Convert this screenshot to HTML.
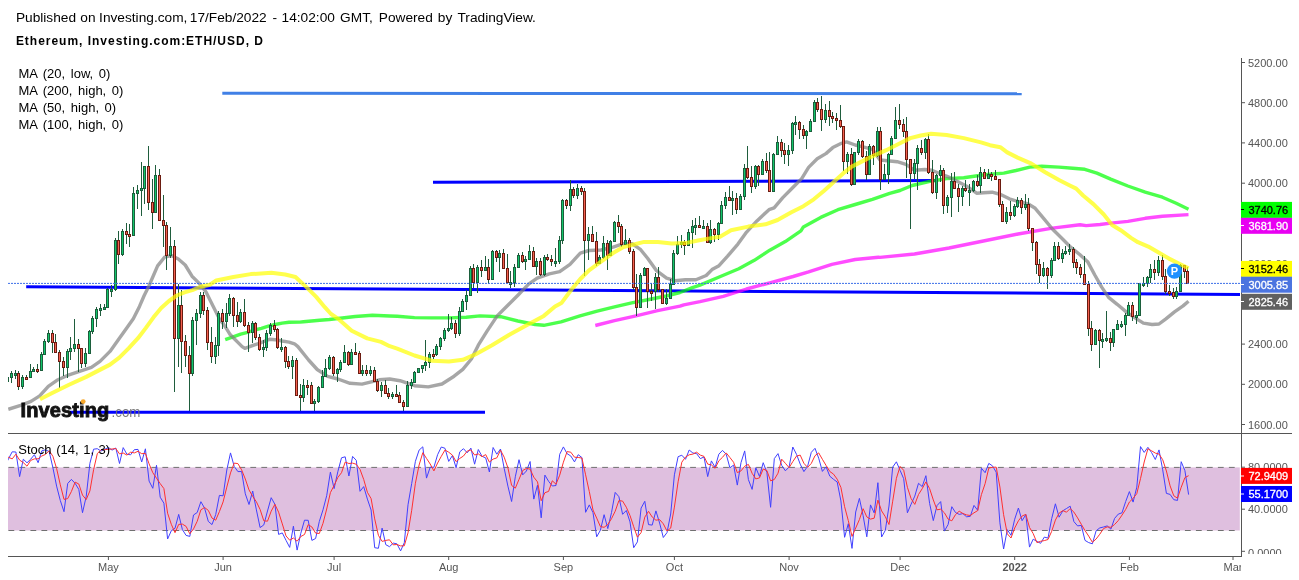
<!DOCTYPE html>
<html><head><meta charset="utf-8"><style>
html,body{margin:0;padding:0;background:#fff;}
body{width:1299px;height:580px;position:relative;overflow:hidden;font-family:"Liberation Sans",sans-serif;}
svg{position:absolute;left:0;top:0;will-change:transform;}
svg text{font-family:"Liberation Sans",sans-serif;}
</style></head><body>
<svg width="1299" height="580" viewBox="0 0 1299 580">
<defs><clipPath id="cm"><rect x="8" y="58" width="1233" height="375"/></clipPath><clipPath id="cs"><rect x="8" y="434" width="1233" height="122"/></clipPath><clipPath id="cta"><rect x="0" y="540" width="1241" height="40"/></clipPath><clipPath id="csa"><rect x="1242" y="434" width="57" height="120"/></clipPath></defs>
<g clip-path="url(#cm)">
<line x1="222.3" y1="93.3" x2="1021.7" y2="93.7" stroke="#4080e6" stroke-width="3"/>
<line x1="433" y1="182.2" x2="936" y2="180.6" stroke="#0000ff" stroke-width="3"/>
<line x1="26.2" y1="286.7" x2="1240" y2="294.5" stroke="#0000ff" stroke-width="3"/>
<path d="M595.3,325.5 L614.5,320.6 L636.0,315.9 L657.6,310.7 L680.0,306.2 L683.8,304.8 L700.0,301.7 L723.3,296.4 L746.5,289.0 L769.8,282.8 L793.1,276.5 L808.6,271.9 L831.9,264.4 L855.2,259.5 L878.4,257.3 L880.0,257.4 L914.5,254.0 L949.0,248.0 L983.4,241.0 L1018.0,234.0 L1052.4,228.1 L1080.0,224.7 L1086.2,225.6 L1100.0,224.5 L1110.7,223.1 L1127.9,221.4 L1145.2,218.3 L1162.4,216.2 L1188.5,214.6" fill="none" stroke="#ff00ff" stroke-opacity="0.7" stroke-width="3.4" stroke-linejoin="round" stroke-linecap="butt"/>
<path d="M225.2,339.7 L233.8,336.6 L240.7,334.1 L247.6,332.4 L254.5,330.0 L261.4,328.3 L268.3,326.2 L275.2,324.5 L282.1,323.1 L289.0,322.3 L300.0,322.1 L303.4,321.7 L319.7,320.2 L329.3,319.5 L355.2,316.5 L372.4,315.2 L389.7,316.0 L397.2,316.2 L414.5,317.6 L431.7,317.9 L449.0,317.9 L466.2,317.2 L480.0,315.9 L500.7,316.7 L517.9,321.0 L535.2,324.5 L543.8,325.3 L561.0,321.9 L580.0,315.9 L597.2,311.1 L614.5,306.8 L631.7,302.9 L649.0,299.5 L666.2,296.0 L680.0,292.5 L692.4,287.6 L700.0,285.1 L718.6,277.3 L738.8,268.8 L754.3,260.3 L769.8,250.2 L785.3,241.6 L800.9,230.8 L803.4,226.9 L820.7,217.4 L837.9,209.7 L855.2,204.5 L872.4,199.3 L889.7,193.3 L900.0,190.5 L912.1,185.5 L931.0,181.2 L946.6,178.6 L963.8,177.8 L981.0,175.2 L990.0,174.3 L1003.8,173.1 L1015.9,170.5 L1029.7,167.1 L1041.7,166.2 L1059.0,167.1 L1072.8,168.3 L1084.8,169.3 L1096.9,173.1 L1110.7,179.1 L1127.9,186.0 L1145.2,192.1 L1162.4,197.2 L1176.2,203.3 L1188.5,209.2" fill="none" stroke="#00ff00" stroke-opacity="0.7" stroke-width="3.4" stroke-linejoin="round" stroke-linecap="butt"/>
<path d="M8.3,409.3 L20.7,405.3 L31.0,401.4 L39.7,395.9 L48.3,386.4 L56.9,380.3 L69.0,374.8 L81.0,370.9 L91.4,367.4 L100.0,361.4 L110.0,351.4 L117.8,340.6 L125.5,329.7 L133.3,318.8 L139.5,306.4 L144.2,295.5 L148.8,286.2 L157.6,265.9 L164.5,257.2 L171.4,255.5 L178.3,259.0 L185.2,265.0 L192.0,276.2 L199.0,283.1 L205.9,291.7 L211.0,302.0 L218.0,315.9 L220.0,320.3 L223.4,323.8 L226.9,329.3 L230.3,334.8 L233.8,338.3 L237.9,342.4 L242.1,346.6 L244.8,348.3 L249.0,346.9 L254.5,344.8 L260.0,343.1 L264.8,341.0 L269.7,339.3 L275.2,339.7 L282.1,341.0 L289.0,342.1 L294.5,343.8 L297.9,346.6 L308.6,360.0 L317.2,369.5 L327.6,376.4 L337.9,379.0 L350.0,383.3 L362.0,384.1 L372.4,381.6 L379.3,379.8 L389.7,379.0 L400.0,380.7 L414.5,385.7 L428.3,386.9 L442.0,384.0 L454.1,376.2 L462.8,369.3 L471.4,359.0 L478.3,345.2 L486.9,331.4 L497.2,315.9 L507.6,305.5 L517.9,295.2 L528.6,284.1 L537.2,278.1 L549.3,273.8 L559.7,271.7 L570.0,264.3 L580.3,253.1 L589.0,250.5 L601.0,250.0 L613.1,247.1 L623.4,243.6 L632.0,243.6 L640.7,249.7 L647.6,258.3 L656.2,270.3 L666.6,278.1 L675.2,280.7 L685.5,279.8 L695.9,279.8 L706.2,275.5 L712.0,269.6 L719.0,265.7 L727.6,256.2 L737.9,244.1 L746.6,232.1 L756.9,220.9 L769.0,209.7 L774.1,207.9 L782.8,197.6 L793.1,187.2 L801.7,178.6 L808.6,167.4 L817.2,158.8 L825.9,153.6 L832.8,147.6 L841.4,143.3 L846.6,141.9 L855.2,145.0 L862.1,146.7 L872.4,149.3 L880.0,160.0 L897.2,161.7 L905.9,164.3 L914.5,170.3 L924.8,169.5 L931.7,170.3 L940.3,173.8 L949.0,177.2 L957.6,181.6 L966.2,185.9 L976.6,193.2 L983.4,192.8 L992.1,192.2 L1000.7,194.5 L1009.3,198.8 L1017.9,201.4 L1028.3,204.0 L1035.2,208.3 L1043.8,218.6 L1052.4,229.0 L1062.8,239.3 L1069.7,246.2 L1080.0,254.8 L1087.9,262.1 L1094.8,275.0 L1101.7,287.1 L1108.6,297.4 L1117.2,304.3 L1126.2,311.9 L1136.6,318.8 L1143.4,323.1 L1152.1,324.5 L1159.0,324.0 L1165.9,318.8 L1174.5,311.9 L1183.1,305.9 L1188.5,301.2" fill="none" stroke="#808080" stroke-opacity="0.7" stroke-width="3.4" stroke-linejoin="round" stroke-linecap="butt"/>
<rect x="4" y="370" width="1" height="12" fill="#1f5d3d"/>
<rect x="3" y="371" width="3" height="11" fill="#6a1b10"/>
<rect x="4" y="372" width="1" height="9" fill="#f4604f"/>
<rect x="7" y="376" width="1" height="8" fill="#1f5d3d"/>
<rect x="6" y="377" width="3" height="5" fill="#1c5e3c"/>
<rect x="7" y="378" width="1" height="3" fill="#11c56a"/>
<rect x="11" y="371" width="1" height="12" fill="#1f5d3d"/>
<rect x="10" y="373" width="3" height="5" fill="#1c5e3c"/>
<rect x="11" y="374" width="1" height="3" fill="#11c56a"/>
<rect x="15" y="370" width="1" height="9" fill="#1f5d3d"/>
<rect x="14" y="373" width="3" height="3" fill="#1c5e3c"/>
<rect x="15" y="374" width="1" height="1" fill="#11c56a"/>
<rect x="18" y="371" width="1" height="19" fill="#1f5d3d"/>
<rect x="17" y="373" width="3" height="14" fill="#6a1b10"/>
<rect x="18" y="374" width="1" height="12" fill="#f4604f"/>
<rect x="22" y="375" width="1" height="14" fill="#1f5d3d"/>
<rect x="21" y="377" width="3" height="10" fill="#1c5e3c"/>
<rect x="22" y="378" width="1" height="8" fill="#11c56a"/>
<rect x="26" y="375" width="1" height="4" fill="#1f5d3d"/>
<rect x="25" y="377" width="3" height="3" fill="#6a1b10"/>
<rect x="26" y="378" width="1" height="1" fill="#f4604f"/>
<rect x="30" y="364" width="1" height="14" fill="#1f5d3d"/>
<rect x="29" y="371" width="3" height="7" fill="#1c5e3c"/>
<rect x="30" y="372" width="1" height="5" fill="#11c56a"/>
<rect x="33" y="367" width="1" height="5" fill="#1f5d3d"/>
<rect x="32" y="369" width="3" height="3" fill="#1c5e3c"/>
<rect x="33" y="370" width="1" height="1" fill="#11c56a"/>
<rect x="37" y="364" width="1" height="9" fill="#1f5d3d"/>
<rect x="36" y="369" width="3" height="3" fill="#6a1b10"/>
<rect x="37" y="370" width="1" height="1" fill="#f4604f"/>
<rect x="41" y="352" width="1" height="19" fill="#1f5d3d"/>
<rect x="40" y="354" width="3" height="17" fill="#1c5e3c"/>
<rect x="41" y="355" width="1" height="15" fill="#11c56a"/>
<rect x="44" y="339" width="1" height="16" fill="#1f5d3d"/>
<rect x="43" y="341" width="3" height="14" fill="#1c5e3c"/>
<rect x="44" y="342" width="1" height="12" fill="#11c56a"/>
<rect x="48" y="330" width="1" height="13" fill="#1f5d3d"/>
<rect x="47" y="333" width="3" height="9" fill="#1c5e3c"/>
<rect x="48" y="334" width="1" height="7" fill="#11c56a"/>
<rect x="52" y="330" width="1" height="23" fill="#1f5d3d"/>
<rect x="51" y="333" width="3" height="10" fill="#6a1b10"/>
<rect x="52" y="334" width="1" height="8" fill="#f4604f"/>
<rect x="55" y="334" width="1" height="19" fill="#1f5d3d"/>
<rect x="54" y="342" width="3" height="11" fill="#6a1b10"/>
<rect x="55" y="343" width="1" height="9" fill="#f4604f"/>
<rect x="59" y="350" width="1" height="38" fill="#1f5d3d"/>
<rect x="58" y="352" width="3" height="10" fill="#6a1b10"/>
<rect x="59" y="353" width="1" height="8" fill="#f4604f"/>
<rect x="63" y="357" width="1" height="19" fill="#1f5d3d"/>
<rect x="62" y="361" width="3" height="7" fill="#6a1b10"/>
<rect x="63" y="362" width="1" height="5" fill="#f4604f"/>
<rect x="67" y="349" width="1" height="29" fill="#1f5d3d"/>
<rect x="66" y="351" width="3" height="17" fill="#1c5e3c"/>
<rect x="67" y="352" width="1" height="15" fill="#11c56a"/>
<rect x="70" y="337" width="1" height="23" fill="#1f5d3d"/>
<rect x="69" y="348" width="3" height="4" fill="#1c5e3c"/>
<rect x="70" y="349" width="1" height="2" fill="#11c56a"/>
<rect x="74" y="319" width="1" height="33" fill="#1f5d3d"/>
<rect x="73" y="344" width="3" height="5" fill="#1c5e3c"/>
<rect x="74" y="345" width="1" height="3" fill="#11c56a"/>
<rect x="78" y="339" width="1" height="33" fill="#1f5d3d"/>
<rect x="77" y="344" width="3" height="5" fill="#6a1b10"/>
<rect x="78" y="345" width="1" height="3" fill="#f4604f"/>
<rect x="81" y="348" width="1" height="20" fill="#1f5d3d"/>
<rect x="80" y="348" width="3" height="16" fill="#6a1b10"/>
<rect x="81" y="349" width="1" height="14" fill="#f4604f"/>
<rect x="85" y="348" width="1" height="19" fill="#1f5d3d"/>
<rect x="84" y="353" width="3" height="11" fill="#1c5e3c"/>
<rect x="85" y="354" width="1" height="9" fill="#11c56a"/>
<rect x="89" y="330" width="1" height="23" fill="#1f5d3d"/>
<rect x="88" y="331" width="3" height="23" fill="#1c5e3c"/>
<rect x="89" y="332" width="1" height="21" fill="#11c56a"/>
<rect x="92" y="316" width="1" height="18" fill="#1f5d3d"/>
<rect x="91" y="318" width="3" height="14" fill="#1c5e3c"/>
<rect x="92" y="319" width="1" height="12" fill="#11c56a"/>
<rect x="96" y="307" width="1" height="20" fill="#1f5d3d"/>
<rect x="95" y="309" width="3" height="10" fill="#1c5e3c"/>
<rect x="96" y="310" width="1" height="8" fill="#11c56a"/>
<rect x="100" y="304" width="1" height="12" fill="#1f5d3d"/>
<rect x="99" y="308" width="3" height="3" fill="#1c5e3c"/>
<rect x="100" y="309" width="1" height="1" fill="#11c56a"/>
<rect x="104" y="304" width="1" height="6" fill="#1f5d3d"/>
<rect x="103" y="307" width="3" height="3" fill="#1c5e3c"/>
<rect x="104" y="308" width="1" height="1" fill="#11c56a"/>
<rect x="107" y="288" width="1" height="19" fill="#1f5d3d"/>
<rect x="106" y="289" width="3" height="19" fill="#1c5e3c"/>
<rect x="107" y="290" width="1" height="17" fill="#11c56a"/>
<rect x="111" y="285" width="1" height="12" fill="#1f5d3d"/>
<rect x="110" y="289" width="3" height="3" fill="#1c5e3c"/>
<rect x="111" y="290" width="1" height="1" fill="#11c56a"/>
<rect x="115" y="238" width="1" height="53" fill="#1f5d3d"/>
<rect x="114" y="240" width="3" height="50" fill="#1c5e3c"/>
<rect x="115" y="241" width="1" height="48" fill="#11c56a"/>
<rect x="118" y="231" width="1" height="33" fill="#1f5d3d"/>
<rect x="117" y="240" width="3" height="15" fill="#6a1b10"/>
<rect x="118" y="241" width="1" height="13" fill="#f4604f"/>
<rect x="122" y="229" width="1" height="27" fill="#1f5d3d"/>
<rect x="121" y="231" width="3" height="24" fill="#1c5e3c"/>
<rect x="122" y="232" width="1" height="22" fill="#11c56a"/>
<rect x="126" y="223" width="1" height="21" fill="#1f5d3d"/>
<rect x="125" y="231" width="3" height="4" fill="#6a1b10"/>
<rect x="126" y="232" width="1" height="2" fill="#f4604f"/>
<rect x="129" y="224" width="1" height="23" fill="#1f5d3d"/>
<rect x="128" y="234" width="3" height="3" fill="#6a1b10"/>
<rect x="129" y="235" width="1" height="1" fill="#f4604f"/>
<rect x="133" y="187" width="1" height="49" fill="#1f5d3d"/>
<rect x="132" y="193" width="3" height="43" fill="#1c5e3c"/>
<rect x="133" y="194" width="1" height="41" fill="#11c56a"/>
<rect x="137" y="185" width="1" height="24" fill="#1f5d3d"/>
<rect x="136" y="190" width="3" height="4" fill="#1c5e3c"/>
<rect x="137" y="191" width="1" height="2" fill="#11c56a"/>
<rect x="141" y="162" width="1" height="54" fill="#1f5d3d"/>
<rect x="140" y="188" width="3" height="3" fill="#1c5e3c"/>
<rect x="141" y="189" width="1" height="1" fill="#11c56a"/>
<rect x="144" y="166" width="1" height="38" fill="#1f5d3d"/>
<rect x="143" y="166" width="3" height="23" fill="#1c5e3c"/>
<rect x="144" y="167" width="1" height="21" fill="#11c56a"/>
<rect x="148" y="146" width="1" height="64" fill="#1f5d3d"/>
<rect x="147" y="166" width="3" height="37" fill="#6a1b10"/>
<rect x="148" y="167" width="1" height="35" fill="#f4604f"/>
<rect x="152" y="179" width="1" height="50" fill="#1f5d3d"/>
<rect x="151" y="202" width="3" height="11" fill="#6a1b10"/>
<rect x="152" y="203" width="1" height="9" fill="#f4604f"/>
<rect x="155" y="165" width="1" height="47" fill="#1f5d3d"/>
<rect x="154" y="175" width="3" height="38" fill="#1c5e3c"/>
<rect x="155" y="176" width="1" height="36" fill="#11c56a"/>
<rect x="159" y="169" width="1" height="51" fill="#1f5d3d"/>
<rect x="158" y="175" width="3" height="46" fill="#6a1b10"/>
<rect x="159" y="176" width="1" height="44" fill="#f4604f"/>
<rect x="163" y="195" width="1" height="52" fill="#1f5d3d"/>
<rect x="162" y="220" width="3" height="6" fill="#6a1b10"/>
<rect x="163" y="221" width="1" height="4" fill="#f4604f"/>
<rect x="166" y="222" width="1" height="48" fill="#1f5d3d"/>
<rect x="165" y="225" width="3" height="31" fill="#6a1b10"/>
<rect x="166" y="226" width="1" height="29" fill="#f4604f"/>
<rect x="170" y="227" width="1" height="31" fill="#1f5d3d"/>
<rect x="169" y="246" width="3" height="10" fill="#1c5e3c"/>
<rect x="170" y="247" width="1" height="8" fill="#11c56a"/>
<rect x="174" y="240" width="1" height="152" fill="#1f5d3d"/>
<rect x="173" y="246" width="3" height="93" fill="#6a1b10"/>
<rect x="174" y="247" width="1" height="91" fill="#f4604f"/>
<rect x="178" y="284" width="1" height="83" fill="#1f5d3d"/>
<rect x="177" y="305" width="3" height="34" fill="#1c5e3c"/>
<rect x="178" y="306" width="1" height="32" fill="#11c56a"/>
<rect x="181" y="290" width="1" height="83" fill="#1f5d3d"/>
<rect x="180" y="305" width="3" height="37" fill="#6a1b10"/>
<rect x="181" y="306" width="1" height="35" fill="#f4604f"/>
<rect x="185" y="335" width="1" height="32" fill="#1f5d3d"/>
<rect x="184" y="341" width="3" height="15" fill="#6a1b10"/>
<rect x="185" y="342" width="1" height="13" fill="#f4604f"/>
<rect x="189" y="346" width="1" height="65" fill="#1f5d3d"/>
<rect x="188" y="355" width="3" height="19" fill="#6a1b10"/>
<rect x="189" y="356" width="1" height="17" fill="#f4604f"/>
<rect x="192" y="317" width="1" height="59" fill="#1f5d3d"/>
<rect x="191" y="320" width="3" height="54" fill="#1c5e3c"/>
<rect x="192" y="321" width="1" height="52" fill="#11c56a"/>
<rect x="196" y="309" width="1" height="36" fill="#1f5d3d"/>
<rect x="195" y="313" width="3" height="8" fill="#1c5e3c"/>
<rect x="196" y="314" width="1" height="6" fill="#11c56a"/>
<rect x="200" y="292" width="1" height="26" fill="#1f5d3d"/>
<rect x="199" y="295" width="3" height="19" fill="#1c5e3c"/>
<rect x="200" y="296" width="1" height="17" fill="#11c56a"/>
<rect x="203" y="292" width="1" height="23" fill="#1f5d3d"/>
<rect x="202" y="295" width="3" height="16" fill="#6a1b10"/>
<rect x="203" y="296" width="1" height="14" fill="#f4604f"/>
<rect x="207" y="307" width="1" height="43" fill="#1f5d3d"/>
<rect x="206" y="310" width="3" height="33" fill="#6a1b10"/>
<rect x="207" y="311" width="1" height="31" fill="#f4604f"/>
<rect x="211" y="327" width="1" height="36" fill="#1f5d3d"/>
<rect x="210" y="342" width="3" height="15" fill="#6a1b10"/>
<rect x="211" y="343" width="1" height="13" fill="#f4604f"/>
<rect x="215" y="337" width="1" height="27" fill="#1f5d3d"/>
<rect x="214" y="345" width="3" height="12" fill="#1c5e3c"/>
<rect x="215" y="346" width="1" height="10" fill="#11c56a"/>
<rect x="218" y="311" width="1" height="45" fill="#1f5d3d"/>
<rect x="217" y="313" width="3" height="33" fill="#1c5e3c"/>
<rect x="218" y="314" width="1" height="31" fill="#11c56a"/>
<rect x="222" y="309" width="1" height="20" fill="#1f5d3d"/>
<rect x="221" y="313" width="3" height="9" fill="#6a1b10"/>
<rect x="222" y="314" width="1" height="7" fill="#f4604f"/>
<rect x="226" y="303" width="1" height="25" fill="#1f5d3d"/>
<rect x="225" y="313" width="3" height="9" fill="#1c5e3c"/>
<rect x="226" y="314" width="1" height="7" fill="#11c56a"/>
<rect x="229" y="294" width="1" height="22" fill="#1f5d3d"/>
<rect x="228" y="298" width="3" height="16" fill="#1c5e3c"/>
<rect x="229" y="299" width="1" height="14" fill="#11c56a"/>
<rect x="233" y="297" width="1" height="30" fill="#1f5d3d"/>
<rect x="232" y="298" width="3" height="18" fill="#6a1b10"/>
<rect x="233" y="299" width="1" height="16" fill="#f4604f"/>
<rect x="237" y="302" width="1" height="25" fill="#1f5d3d"/>
<rect x="236" y="315" width="3" height="7" fill="#6a1b10"/>
<rect x="237" y="316" width="1" height="5" fill="#f4604f"/>
<rect x="240" y="309" width="1" height="14" fill="#1f5d3d"/>
<rect x="239" y="312" width="3" height="10" fill="#1c5e3c"/>
<rect x="240" y="313" width="1" height="8" fill="#11c56a"/>
<rect x="244" y="299" width="1" height="28" fill="#1f5d3d"/>
<rect x="243" y="312" width="3" height="14" fill="#6a1b10"/>
<rect x="244" y="313" width="1" height="12" fill="#f4604f"/>
<rect x="248" y="322" width="1" height="30" fill="#1f5d3d"/>
<rect x="247" y="325" width="3" height="8" fill="#6a1b10"/>
<rect x="248" y="326" width="1" height="6" fill="#f4604f"/>
<rect x="252" y="321" width="1" height="22" fill="#1f5d3d"/>
<rect x="251" y="323" width="3" height="10" fill="#1c5e3c"/>
<rect x="252" y="324" width="1" height="8" fill="#11c56a"/>
<rect x="255" y="322" width="1" height="18" fill="#1f5d3d"/>
<rect x="254" y="323" width="3" height="15" fill="#6a1b10"/>
<rect x="255" y="324" width="1" height="13" fill="#f4604f"/>
<rect x="259" y="334" width="1" height="17" fill="#1f5d3d"/>
<rect x="258" y="337" width="3" height="13" fill="#6a1b10"/>
<rect x="259" y="338" width="1" height="11" fill="#f4604f"/>
<rect x="263" y="340" width="1" height="17" fill="#1f5d3d"/>
<rect x="262" y="347" width="3" height="3" fill="#1c5e3c"/>
<rect x="263" y="348" width="1" height="1" fill="#11c56a"/>
<rect x="266" y="330" width="1" height="21" fill="#1f5d3d"/>
<rect x="265" y="333" width="3" height="15" fill="#1c5e3c"/>
<rect x="266" y="334" width="1" height="13" fill="#11c56a"/>
<rect x="270" y="323" width="1" height="13" fill="#1f5d3d"/>
<rect x="269" y="325" width="3" height="9" fill="#1c5e3c"/>
<rect x="270" y="326" width="1" height="7" fill="#11c56a"/>
<rect x="274" y="320" width="1" height="12" fill="#1f5d3d"/>
<rect x="273" y="325" width="3" height="5" fill="#6a1b10"/>
<rect x="274" y="326" width="1" height="3" fill="#f4604f"/>
<rect x="277" y="328" width="1" height="21" fill="#1f5d3d"/>
<rect x="276" y="329" width="3" height="19" fill="#6a1b10"/>
<rect x="277" y="330" width="1" height="17" fill="#f4604f"/>
<rect x="281" y="338" width="1" height="14" fill="#1f5d3d"/>
<rect x="280" y="347" width="3" height="3" fill="#1c5e3c"/>
<rect x="281" y="348" width="1" height="1" fill="#11c56a"/>
<rect x="285" y="346" width="1" height="22" fill="#1f5d3d"/>
<rect x="284" y="347" width="3" height="15" fill="#6a1b10"/>
<rect x="285" y="348" width="1" height="13" fill="#f4604f"/>
<rect x="288" y="356" width="1" height="13" fill="#1f5d3d"/>
<rect x="287" y="361" width="3" height="6" fill="#6a1b10"/>
<rect x="288" y="362" width="1" height="4" fill="#f4604f"/>
<rect x="292" y="356" width="1" height="23" fill="#1f5d3d"/>
<rect x="291" y="360" width="3" height="7" fill="#1c5e3c"/>
<rect x="292" y="361" width="1" height="5" fill="#11c56a"/>
<rect x="296" y="358" width="1" height="38" fill="#1f5d3d"/>
<rect x="295" y="360" width="3" height="36" fill="#6a1b10"/>
<rect x="296" y="361" width="1" height="34" fill="#f4604f"/>
<rect x="300" y="384" width="1" height="29" fill="#1f5d3d"/>
<rect x="299" y="395" width="3" height="3" fill="#6a1b10"/>
<rect x="300" y="396" width="1" height="1" fill="#f4604f"/>
<rect x="303" y="379" width="1" height="23" fill="#1f5d3d"/>
<rect x="302" y="385" width="3" height="13" fill="#1c5e3c"/>
<rect x="303" y="386" width="1" height="11" fill="#11c56a"/>
<rect x="307" y="380" width="1" height="15" fill="#1f5d3d"/>
<rect x="306" y="385" width="3" height="3" fill="#6a1b10"/>
<rect x="307" y="386" width="1" height="1" fill="#f4604f"/>
<rect x="311" y="382" width="1" height="22" fill="#1f5d3d"/>
<rect x="310" y="385" width="3" height="19" fill="#6a1b10"/>
<rect x="311" y="386" width="1" height="17" fill="#f4604f"/>
<rect x="314" y="399" width="1" height="13" fill="#1f5d3d"/>
<rect x="313" y="401" width="3" height="3" fill="#1c5e3c"/>
<rect x="314" y="402" width="1" height="1" fill="#11c56a"/>
<rect x="318" y="386" width="1" height="17" fill="#1f5d3d"/>
<rect x="317" y="387" width="3" height="15" fill="#1c5e3c"/>
<rect x="318" y="388" width="1" height="13" fill="#11c56a"/>
<rect x="322" y="370" width="1" height="18" fill="#1f5d3d"/>
<rect x="321" y="376" width="3" height="12" fill="#1c5e3c"/>
<rect x="322" y="377" width="1" height="10" fill="#11c56a"/>
<rect x="325" y="359" width="1" height="17" fill="#1f5d3d"/>
<rect x="324" y="368" width="3" height="9" fill="#1c5e3c"/>
<rect x="325" y="369" width="1" height="7" fill="#11c56a"/>
<rect x="329" y="355" width="1" height="15" fill="#1f5d3d"/>
<rect x="328" y="357" width="3" height="12" fill="#1c5e3c"/>
<rect x="329" y="358" width="1" height="10" fill="#11c56a"/>
<rect x="333" y="356" width="1" height="20" fill="#1f5d3d"/>
<rect x="332" y="357" width="3" height="17" fill="#6a1b10"/>
<rect x="333" y="358" width="1" height="15" fill="#f4604f"/>
<rect x="337" y="368" width="1" height="14" fill="#1f5d3d"/>
<rect x="336" y="369" width="3" height="5" fill="#1c5e3c"/>
<rect x="337" y="370" width="1" height="3" fill="#11c56a"/>
<rect x="340" y="360" width="1" height="12" fill="#1f5d3d"/>
<rect x="339" y="362" width="3" height="8" fill="#1c5e3c"/>
<rect x="340" y="363" width="1" height="6" fill="#11c56a"/>
<rect x="344" y="345" width="1" height="17" fill="#1f5d3d"/>
<rect x="343" y="352" width="3" height="11" fill="#1c5e3c"/>
<rect x="344" y="353" width="1" height="9" fill="#11c56a"/>
<rect x="348" y="351" width="1" height="15" fill="#1f5d3d"/>
<rect x="347" y="352" width="3" height="13" fill="#6a1b10"/>
<rect x="348" y="353" width="1" height="11" fill="#f4604f"/>
<rect x="351" y="349" width="1" height="16" fill="#1f5d3d"/>
<rect x="350" y="352" width="3" height="13" fill="#1c5e3c"/>
<rect x="351" y="353" width="1" height="11" fill="#11c56a"/>
<rect x="355" y="343" width="1" height="10" fill="#1f5d3d"/>
<rect x="354" y="352" width="3" height="3" fill="#6a1b10"/>
<rect x="355" y="353" width="1" height="1" fill="#f4604f"/>
<rect x="359" y="351" width="1" height="23" fill="#1f5d3d"/>
<rect x="358" y="353" width="3" height="21" fill="#6a1b10"/>
<rect x="359" y="354" width="1" height="19" fill="#f4604f"/>
<rect x="362" y="365" width="1" height="11" fill="#1f5d3d"/>
<rect x="361" y="370" width="3" height="4" fill="#1c5e3c"/>
<rect x="362" y="371" width="1" height="2" fill="#11c56a"/>
<rect x="366" y="365" width="1" height="11" fill="#1f5d3d"/>
<rect x="365" y="370" width="3" height="4" fill="#6a1b10"/>
<rect x="366" y="371" width="1" height="2" fill="#f4604f"/>
<rect x="370" y="366" width="1" height="10" fill="#1f5d3d"/>
<rect x="369" y="370" width="3" height="4" fill="#1c5e3c"/>
<rect x="370" y="371" width="1" height="2" fill="#11c56a"/>
<rect x="374" y="367" width="1" height="15" fill="#1f5d3d"/>
<rect x="373" y="370" width="3" height="12" fill="#6a1b10"/>
<rect x="374" y="371" width="1" height="10" fill="#f4604f"/>
<rect x="377" y="379" width="1" height="13" fill="#1f5d3d"/>
<rect x="376" y="381" width="3" height="10" fill="#6a1b10"/>
<rect x="377" y="382" width="1" height="8" fill="#f4604f"/>
<rect x="381" y="382" width="1" height="15" fill="#1f5d3d"/>
<rect x="380" y="385" width="3" height="6" fill="#1c5e3c"/>
<rect x="381" y="386" width="1" height="4" fill="#11c56a"/>
<rect x="385" y="380" width="1" height="14" fill="#1f5d3d"/>
<rect x="384" y="385" width="3" height="9" fill="#6a1b10"/>
<rect x="385" y="386" width="1" height="7" fill="#f4604f"/>
<rect x="388" y="388" width="1" height="11" fill="#1f5d3d"/>
<rect x="387" y="393" width="3" height="4" fill="#6a1b10"/>
<rect x="388" y="394" width="1" height="2" fill="#f4604f"/>
<rect x="392" y="392" width="1" height="7" fill="#1f5d3d"/>
<rect x="391" y="394" width="3" height="3" fill="#1c5e3c"/>
<rect x="392" y="395" width="1" height="1" fill="#11c56a"/>
<rect x="396" y="385" width="1" height="11" fill="#1f5d3d"/>
<rect x="395" y="394" width="3" height="3" fill="#6a1b10"/>
<rect x="396" y="395" width="1" height="1" fill="#f4604f"/>
<rect x="399" y="392" width="1" height="11" fill="#1f5d3d"/>
<rect x="398" y="395" width="3" height="8" fill="#6a1b10"/>
<rect x="399" y="396" width="1" height="6" fill="#f4604f"/>
<rect x="403" y="400" width="1" height="11" fill="#1f5d3d"/>
<rect x="402" y="402" width="3" height="5" fill="#6a1b10"/>
<rect x="403" y="403" width="1" height="3" fill="#f4604f"/>
<rect x="407" y="381" width="1" height="26" fill="#1f5d3d"/>
<rect x="406" y="385" width="3" height="22" fill="#1c5e3c"/>
<rect x="407" y="386" width="1" height="20" fill="#11c56a"/>
<rect x="411" y="379" width="1" height="10" fill="#1f5d3d"/>
<rect x="410" y="382" width="3" height="4" fill="#1c5e3c"/>
<rect x="411" y="383" width="1" height="2" fill="#11c56a"/>
<rect x="414" y="371" width="1" height="12" fill="#1f5d3d"/>
<rect x="413" y="372" width="3" height="11" fill="#1c5e3c"/>
<rect x="414" y="373" width="1" height="9" fill="#11c56a"/>
<rect x="418" y="368" width="1" height="5" fill="#1f5d3d"/>
<rect x="417" y="368" width="3" height="5" fill="#1c5e3c"/>
<rect x="418" y="369" width="1" height="3" fill="#11c56a"/>
<rect x="422" y="365" width="1" height="8" fill="#1f5d3d"/>
<rect x="421" y="365" width="3" height="4" fill="#1c5e3c"/>
<rect x="422" y="366" width="1" height="2" fill="#11c56a"/>
<rect x="425" y="340" width="1" height="31" fill="#1f5d3d"/>
<rect x="424" y="362" width="3" height="4" fill="#1c5e3c"/>
<rect x="425" y="363" width="1" height="2" fill="#11c56a"/>
<rect x="429" y="352" width="1" height="16" fill="#1f5d3d"/>
<rect x="428" y="354" width="3" height="9" fill="#1c5e3c"/>
<rect x="429" y="355" width="1" height="7" fill="#11c56a"/>
<rect x="433" y="349" width="1" height="10" fill="#1f5d3d"/>
<rect x="432" y="354" width="3" height="3" fill="#6a1b10"/>
<rect x="433" y="355" width="1" height="1" fill="#f4604f"/>
<rect x="436" y="344" width="1" height="12" fill="#1f5d3d"/>
<rect x="435" y="346" width="3" height="9" fill="#1c5e3c"/>
<rect x="436" y="347" width="1" height="7" fill="#11c56a"/>
<rect x="440" y="337" width="1" height="13" fill="#1f5d3d"/>
<rect x="439" y="338" width="3" height="9" fill="#1c5e3c"/>
<rect x="440" y="339" width="1" height="7" fill="#11c56a"/>
<rect x="444" y="328" width="1" height="13" fill="#1f5d3d"/>
<rect x="443" y="330" width="3" height="9" fill="#1c5e3c"/>
<rect x="444" y="331" width="1" height="7" fill="#11c56a"/>
<rect x="448" y="314" width="1" height="18" fill="#1f5d3d"/>
<rect x="447" y="328" width="3" height="3" fill="#1c5e3c"/>
<rect x="448" y="329" width="1" height="1" fill="#11c56a"/>
<rect x="451" y="317" width="1" height="13" fill="#1f5d3d"/>
<rect x="450" y="323" width="3" height="6" fill="#1c5e3c"/>
<rect x="451" y="324" width="1" height="4" fill="#11c56a"/>
<rect x="455" y="320" width="1" height="18" fill="#1f5d3d"/>
<rect x="454" y="323" width="3" height="11" fill="#6a1b10"/>
<rect x="455" y="324" width="1" height="9" fill="#f4604f"/>
<rect x="459" y="307" width="1" height="29" fill="#1f5d3d"/>
<rect x="458" y="311" width="3" height="23" fill="#1c5e3c"/>
<rect x="459" y="312" width="1" height="21" fill="#11c56a"/>
<rect x="462" y="299" width="1" height="13" fill="#1f5d3d"/>
<rect x="461" y="301" width="3" height="11" fill="#1c5e3c"/>
<rect x="462" y="302" width="1" height="9" fill="#11c56a"/>
<rect x="466" y="290" width="1" height="20" fill="#1f5d3d"/>
<rect x="465" y="295" width="3" height="7" fill="#1c5e3c"/>
<rect x="466" y="296" width="1" height="5" fill="#11c56a"/>
<rect x="470" y="266" width="1" height="29" fill="#1f5d3d"/>
<rect x="469" y="268" width="3" height="28" fill="#1c5e3c"/>
<rect x="470" y="269" width="1" height="26" fill="#11c56a"/>
<rect x="473" y="264" width="1" height="24" fill="#1f5d3d"/>
<rect x="472" y="268" width="3" height="15" fill="#6a1b10"/>
<rect x="473" y="269" width="1" height="13" fill="#f4604f"/>
<rect x="477" y="265" width="1" height="28" fill="#1f5d3d"/>
<rect x="476" y="267" width="3" height="16" fill="#1c5e3c"/>
<rect x="477" y="268" width="1" height="14" fill="#11c56a"/>
<rect x="481" y="260" width="1" height="17" fill="#1f5d3d"/>
<rect x="480" y="267" width="3" height="4" fill="#6a1b10"/>
<rect x="481" y="268" width="1" height="2" fill="#f4604f"/>
<rect x="485" y="256" width="1" height="15" fill="#1f5d3d"/>
<rect x="484" y="267" width="3" height="4" fill="#1c5e3c"/>
<rect x="485" y="268" width="1" height="2" fill="#11c56a"/>
<rect x="488" y="259" width="1" height="25" fill="#1f5d3d"/>
<rect x="487" y="267" width="3" height="13" fill="#6a1b10"/>
<rect x="488" y="268" width="1" height="11" fill="#f4604f"/>
<rect x="492" y="250" width="1" height="30" fill="#1f5d3d"/>
<rect x="491" y="251" width="3" height="29" fill="#1c5e3c"/>
<rect x="492" y="252" width="1" height="27" fill="#11c56a"/>
<rect x="496" y="250" width="1" height="12" fill="#1f5d3d"/>
<rect x="495" y="251" width="3" height="7" fill="#6a1b10"/>
<rect x="496" y="252" width="1" height="5" fill="#f4604f"/>
<rect x="499" y="250" width="1" height="22" fill="#1f5d3d"/>
<rect x="498" y="253" width="3" height="5" fill="#1c5e3c"/>
<rect x="499" y="254" width="1" height="3" fill="#11c56a"/>
<rect x="503" y="249" width="1" height="20" fill="#1f5d3d"/>
<rect x="502" y="253" width="3" height="16" fill="#6a1b10"/>
<rect x="503" y="254" width="1" height="14" fill="#f4604f"/>
<rect x="507" y="254" width="1" height="29" fill="#1f5d3d"/>
<rect x="506" y="268" width="3" height="15" fill="#6a1b10"/>
<rect x="507" y="269" width="1" height="13" fill="#f4604f"/>
<rect x="510" y="271" width="1" height="17" fill="#1f5d3d"/>
<rect x="509" y="282" width="3" height="3" fill="#1c5e3c"/>
<rect x="510" y="283" width="1" height="1" fill="#11c56a"/>
<rect x="514" y="264" width="1" height="23" fill="#1f5d3d"/>
<rect x="513" y="267" width="3" height="16" fill="#1c5e3c"/>
<rect x="514" y="268" width="1" height="14" fill="#11c56a"/>
<rect x="518" y="253" width="1" height="14" fill="#1f5d3d"/>
<rect x="517" y="255" width="3" height="13" fill="#1c5e3c"/>
<rect x="518" y="256" width="1" height="11" fill="#11c56a"/>
<rect x="522" y="252" width="1" height="11" fill="#1f5d3d"/>
<rect x="521" y="255" width="3" height="7" fill="#6a1b10"/>
<rect x="522" y="256" width="1" height="5" fill="#f4604f"/>
<rect x="525" y="256" width="1" height="14" fill="#1f5d3d"/>
<rect x="524" y="259" width="3" height="3" fill="#1c5e3c"/>
<rect x="525" y="260" width="1" height="1" fill="#11c56a"/>
<rect x="529" y="245" width="1" height="15" fill="#1f5d3d"/>
<rect x="528" y="251" width="3" height="9" fill="#1c5e3c"/>
<rect x="529" y="252" width="1" height="7" fill="#11c56a"/>
<rect x="533" y="247" width="1" height="20" fill="#1f5d3d"/>
<rect x="532" y="251" width="3" height="16" fill="#6a1b10"/>
<rect x="533" y="252" width="1" height="14" fill="#f4604f"/>
<rect x="536" y="258" width="1" height="17" fill="#1f5d3d"/>
<rect x="535" y="261" width="3" height="6" fill="#1c5e3c"/>
<rect x="536" y="262" width="1" height="4" fill="#11c56a"/>
<rect x="540" y="258" width="1" height="18" fill="#1f5d3d"/>
<rect x="539" y="261" width="3" height="14" fill="#6a1b10"/>
<rect x="540" y="262" width="1" height="12" fill="#f4604f"/>
<rect x="544" y="255" width="1" height="21" fill="#1f5d3d"/>
<rect x="543" y="257" width="3" height="18" fill="#1c5e3c"/>
<rect x="544" y="258" width="1" height="16" fill="#11c56a"/>
<rect x="547" y="254" width="1" height="7" fill="#1f5d3d"/>
<rect x="546" y="257" width="3" height="3" fill="#6a1b10"/>
<rect x="547" y="258" width="1" height="1" fill="#f4604f"/>
<rect x="551" y="255" width="1" height="11" fill="#1f5d3d"/>
<rect x="550" y="259" width="3" height="3" fill="#6a1b10"/>
<rect x="551" y="260" width="1" height="1" fill="#f4604f"/>
<rect x="555" y="248" width="1" height="19" fill="#1f5d3d"/>
<rect x="554" y="261" width="3" height="3" fill="#1c5e3c"/>
<rect x="555" y="262" width="1" height="1" fill="#11c56a"/>
<rect x="559" y="236" width="1" height="28" fill="#1f5d3d"/>
<rect x="558" y="240" width="3" height="22" fill="#1c5e3c"/>
<rect x="559" y="241" width="1" height="20" fill="#11c56a"/>
<rect x="562" y="199" width="1" height="45" fill="#1f5d3d"/>
<rect x="561" y="200" width="3" height="41" fill="#1c5e3c"/>
<rect x="562" y="201" width="1" height="39" fill="#11c56a"/>
<rect x="566" y="199" width="1" height="10" fill="#1f5d3d"/>
<rect x="565" y="200" width="3" height="6" fill="#6a1b10"/>
<rect x="566" y="201" width="1" height="4" fill="#f4604f"/>
<rect x="570" y="180" width="1" height="31" fill="#1f5d3d"/>
<rect x="569" y="189" width="3" height="17" fill="#1c5e3c"/>
<rect x="570" y="190" width="1" height="15" fill="#11c56a"/>
<rect x="573" y="187" width="1" height="11" fill="#1f5d3d"/>
<rect x="572" y="189" width="3" height="7" fill="#6a1b10"/>
<rect x="573" y="190" width="1" height="5" fill="#f4604f"/>
<rect x="577" y="184" width="1" height="15" fill="#1f5d3d"/>
<rect x="576" y="188" width="3" height="8" fill="#1c5e3c"/>
<rect x="577" y="189" width="1" height="6" fill="#11c56a"/>
<rect x="581" y="186" width="1" height="9" fill="#1f5d3d"/>
<rect x="580" y="188" width="3" height="4" fill="#6a1b10"/>
<rect x="581" y="189" width="1" height="2" fill="#f4604f"/>
<rect x="584" y="188" width="1" height="88" fill="#1f5d3d"/>
<rect x="583" y="191" width="3" height="50" fill="#6a1b10"/>
<rect x="584" y="192" width="1" height="48" fill="#f4604f"/>
<rect x="588" y="227" width="1" height="33" fill="#1f5d3d"/>
<rect x="587" y="234" width="3" height="7" fill="#1c5e3c"/>
<rect x="588" y="235" width="1" height="5" fill="#11c56a"/>
<rect x="592" y="226" width="1" height="16" fill="#1f5d3d"/>
<rect x="591" y="234" width="3" height="8" fill="#6a1b10"/>
<rect x="592" y="235" width="1" height="6" fill="#f4604f"/>
<rect x="596" y="232" width="1" height="34" fill="#1f5d3d"/>
<rect x="595" y="241" width="3" height="23" fill="#6a1b10"/>
<rect x="596" y="242" width="1" height="21" fill="#f4604f"/>
<rect x="599" y="255" width="1" height="8" fill="#1f5d3d"/>
<rect x="598" y="257" width="3" height="7" fill="#1c5e3c"/>
<rect x="599" y="258" width="1" height="5" fill="#11c56a"/>
<rect x="603" y="236" width="1" height="23" fill="#1f5d3d"/>
<rect x="602" y="243" width="3" height="15" fill="#1c5e3c"/>
<rect x="603" y="244" width="1" height="13" fill="#11c56a"/>
<rect x="607" y="240" width="1" height="30" fill="#1f5d3d"/>
<rect x="606" y="243" width="3" height="13" fill="#6a1b10"/>
<rect x="607" y="244" width="1" height="11" fill="#f4604f"/>
<rect x="610" y="240" width="1" height="15" fill="#1f5d3d"/>
<rect x="609" y="241" width="3" height="15" fill="#1c5e3c"/>
<rect x="610" y="242" width="1" height="13" fill="#11c56a"/>
<rect x="614" y="221" width="1" height="20" fill="#1f5d3d"/>
<rect x="613" y="222" width="3" height="20" fill="#1c5e3c"/>
<rect x="614" y="223" width="1" height="18" fill="#11c56a"/>
<rect x="618" y="215" width="1" height="18" fill="#1f5d3d"/>
<rect x="617" y="222" width="3" height="5" fill="#6a1b10"/>
<rect x="618" y="223" width="1" height="3" fill="#f4604f"/>
<rect x="621" y="224" width="1" height="23" fill="#1f5d3d"/>
<rect x="620" y="226" width="3" height="19" fill="#6a1b10"/>
<rect x="621" y="227" width="1" height="17" fill="#f4604f"/>
<rect x="625" y="229" width="1" height="16" fill="#1f5d3d"/>
<rect x="624" y="240" width="3" height="5" fill="#1c5e3c"/>
<rect x="625" y="241" width="1" height="3" fill="#11c56a"/>
<rect x="629" y="238" width="1" height="16" fill="#1f5d3d"/>
<rect x="628" y="240" width="3" height="12" fill="#6a1b10"/>
<rect x="629" y="241" width="1" height="10" fill="#f4604f"/>
<rect x="633" y="249" width="1" height="41" fill="#1f5d3d"/>
<rect x="632" y="251" width="3" height="37" fill="#6a1b10"/>
<rect x="633" y="252" width="1" height="35" fill="#f4604f"/>
<rect x="636" y="274" width="1" height="42" fill="#1f5d3d"/>
<rect x="635" y="287" width="3" height="21" fill="#6a1b10"/>
<rect x="636" y="288" width="1" height="19" fill="#f4604f"/>
<rect x="640" y="273" width="1" height="35" fill="#1f5d3d"/>
<rect x="639" y="275" width="3" height="33" fill="#1c5e3c"/>
<rect x="640" y="276" width="1" height="31" fill="#11c56a"/>
<rect x="644" y="267" width="1" height="9" fill="#1f5d3d"/>
<rect x="643" y="268" width="3" height="8" fill="#1c5e3c"/>
<rect x="644" y="269" width="1" height="6" fill="#11c56a"/>
<rect x="647" y="268" width="1" height="40" fill="#1f5d3d"/>
<rect x="646" y="268" width="3" height="24" fill="#6a1b10"/>
<rect x="647" y="269" width="1" height="22" fill="#f4604f"/>
<rect x="651" y="283" width="1" height="18" fill="#1f5d3d"/>
<rect x="650" y="291" width="3" height="3" fill="#6a1b10"/>
<rect x="651" y="292" width="1" height="1" fill="#f4604f"/>
<rect x="655" y="273" width="1" height="36" fill="#1f5d3d"/>
<rect x="654" y="277" width="3" height="15" fill="#1c5e3c"/>
<rect x="655" y="278" width="1" height="13" fill="#11c56a"/>
<rect x="658" y="267" width="1" height="25" fill="#1f5d3d"/>
<rect x="657" y="277" width="3" height="13" fill="#6a1b10"/>
<rect x="658" y="278" width="1" height="11" fill="#f4604f"/>
<rect x="662" y="289" width="1" height="15" fill="#1f5d3d"/>
<rect x="661" y="289" width="3" height="15" fill="#6a1b10"/>
<rect x="662" y="290" width="1" height="13" fill="#f4604f"/>
<rect x="666" y="289" width="1" height="16" fill="#1f5d3d"/>
<rect x="665" y="298" width="3" height="6" fill="#1c5e3c"/>
<rect x="666" y="299" width="1" height="4" fill="#11c56a"/>
<rect x="670" y="279" width="1" height="20" fill="#1f5d3d"/>
<rect x="669" y="284" width="3" height="15" fill="#1c5e3c"/>
<rect x="670" y="285" width="1" height="13" fill="#11c56a"/>
<rect x="673" y="250" width="1" height="35" fill="#1f5d3d"/>
<rect x="672" y="253" width="3" height="32" fill="#1c5e3c"/>
<rect x="673" y="254" width="1" height="30" fill="#11c56a"/>
<rect x="677" y="236" width="1" height="19" fill="#1f5d3d"/>
<rect x="676" y="244" width="3" height="10" fill="#1c5e3c"/>
<rect x="677" y="245" width="1" height="8" fill="#11c56a"/>
<rect x="681" y="235" width="1" height="13" fill="#1f5d3d"/>
<rect x="680" y="242" width="3" height="3" fill="#1c5e3c"/>
<rect x="681" y="243" width="1" height="1" fill="#11c56a"/>
<rect x="684" y="240" width="1" height="15" fill="#1f5d3d"/>
<rect x="683" y="242" width="3" height="4" fill="#6a1b10"/>
<rect x="684" y="243" width="1" height="2" fill="#f4604f"/>
<rect x="688" y="229" width="1" height="17" fill="#1f5d3d"/>
<rect x="687" y="232" width="3" height="14" fill="#1c5e3c"/>
<rect x="688" y="233" width="1" height="12" fill="#11c56a"/>
<rect x="692" y="220" width="1" height="28" fill="#1f5d3d"/>
<rect x="691" y="226" width="3" height="7" fill="#1c5e3c"/>
<rect x="692" y="227" width="1" height="5" fill="#11c56a"/>
<rect x="695" y="218" width="1" height="17" fill="#1f5d3d"/>
<rect x="694" y="225" width="3" height="3" fill="#1c5e3c"/>
<rect x="695" y="226" width="1" height="1" fill="#11c56a"/>
<rect x="699" y="216" width="1" height="12" fill="#1f5d3d"/>
<rect x="698" y="225" width="3" height="3" fill="#6a1b10"/>
<rect x="699" y="226" width="1" height="1" fill="#f4604f"/>
<rect x="703" y="220" width="1" height="9" fill="#1f5d3d"/>
<rect x="702" y="226" width="3" height="3" fill="#1c5e3c"/>
<rect x="703" y="227" width="1" height="1" fill="#11c56a"/>
<rect x="707" y="223" width="1" height="19" fill="#1f5d3d"/>
<rect x="706" y="226" width="3" height="17" fill="#6a1b10"/>
<rect x="707" y="227" width="1" height="15" fill="#f4604f"/>
<rect x="710" y="220" width="1" height="24" fill="#1f5d3d"/>
<rect x="709" y="229" width="3" height="14" fill="#1c5e3c"/>
<rect x="710" y="230" width="1" height="12" fill="#11c56a"/>
<rect x="714" y="228" width="1" height="14" fill="#1f5d3d"/>
<rect x="713" y="229" width="3" height="6" fill="#6a1b10"/>
<rect x="714" y="230" width="1" height="4" fill="#f4604f"/>
<rect x="718" y="222" width="1" height="18" fill="#1f5d3d"/>
<rect x="717" y="223" width="3" height="12" fill="#1c5e3c"/>
<rect x="718" y="224" width="1" height="10" fill="#11c56a"/>
<rect x="721" y="201" width="1" height="22" fill="#1f5d3d"/>
<rect x="720" y="205" width="3" height="19" fill="#1c5e3c"/>
<rect x="721" y="206" width="1" height="17" fill="#11c56a"/>
<rect x="725" y="192" width="1" height="17" fill="#1f5d3d"/>
<rect x="724" y="197" width="3" height="9" fill="#1c5e3c"/>
<rect x="725" y="198" width="1" height="7" fill="#11c56a"/>
<rect x="729" y="186" width="1" height="15" fill="#1f5d3d"/>
<rect x="728" y="197" width="3" height="4" fill="#6a1b10"/>
<rect x="729" y="198" width="1" height="2" fill="#f4604f"/>
<rect x="732" y="191" width="1" height="24" fill="#1f5d3d"/>
<rect x="731" y="198" width="3" height="3" fill="#1c5e3c"/>
<rect x="732" y="199" width="1" height="1" fill="#11c56a"/>
<rect x="736" y="193" width="1" height="21" fill="#1f5d3d"/>
<rect x="735" y="198" width="3" height="12" fill="#6a1b10"/>
<rect x="736" y="199" width="1" height="10" fill="#f4604f"/>
<rect x="740" y="194" width="1" height="15" fill="#1f5d3d"/>
<rect x="739" y="196" width="3" height="14" fill="#1c5e3c"/>
<rect x="740" y="197" width="1" height="12" fill="#11c56a"/>
<rect x="744" y="164" width="1" height="36" fill="#1f5d3d"/>
<rect x="743" y="168" width="3" height="29" fill="#1c5e3c"/>
<rect x="744" y="169" width="1" height="27" fill="#11c56a"/>
<rect x="747" y="146" width="1" height="33" fill="#1f5d3d"/>
<rect x="746" y="168" width="3" height="10" fill="#6a1b10"/>
<rect x="747" y="169" width="1" height="8" fill="#f4604f"/>
<rect x="751" y="166" width="1" height="27" fill="#1f5d3d"/>
<rect x="750" y="177" width="3" height="10" fill="#6a1b10"/>
<rect x="751" y="178" width="1" height="8" fill="#f4604f"/>
<rect x="755" y="165" width="1" height="24" fill="#1f5d3d"/>
<rect x="754" y="166" width="3" height="21" fill="#1c5e3c"/>
<rect x="755" y="167" width="1" height="19" fill="#11c56a"/>
<rect x="758" y="165" width="1" height="21" fill="#1f5d3d"/>
<rect x="757" y="166" width="3" height="9" fill="#6a1b10"/>
<rect x="758" y="167" width="1" height="7" fill="#f4604f"/>
<rect x="762" y="159" width="1" height="16" fill="#1f5d3d"/>
<rect x="761" y="161" width="3" height="14" fill="#1c5e3c"/>
<rect x="762" y="162" width="1" height="12" fill="#11c56a"/>
<rect x="766" y="153" width="1" height="20" fill="#1f5d3d"/>
<rect x="765" y="161" width="3" height="10" fill="#6a1b10"/>
<rect x="766" y="162" width="1" height="8" fill="#f4604f"/>
<rect x="769" y="152" width="1" height="40" fill="#1f5d3d"/>
<rect x="768" y="170" width="3" height="22" fill="#6a1b10"/>
<rect x="769" y="171" width="1" height="20" fill="#f4604f"/>
<rect x="773" y="153" width="1" height="39" fill="#1f5d3d"/>
<rect x="772" y="154" width="3" height="38" fill="#1c5e3c"/>
<rect x="773" y="155" width="1" height="36" fill="#11c56a"/>
<rect x="777" y="136" width="1" height="19" fill="#1f5d3d"/>
<rect x="776" y="142" width="3" height="13" fill="#1c5e3c"/>
<rect x="777" y="143" width="1" height="11" fill="#11c56a"/>
<rect x="781" y="139" width="1" height="18" fill="#1f5d3d"/>
<rect x="780" y="142" width="3" height="9" fill="#6a1b10"/>
<rect x="781" y="143" width="1" height="7" fill="#f4604f"/>
<rect x="784" y="143" width="1" height="21" fill="#1f5d3d"/>
<rect x="783" y="150" width="3" height="5" fill="#6a1b10"/>
<rect x="784" y="151" width="1" height="3" fill="#f4604f"/>
<rect x="788" y="145" width="1" height="21" fill="#1f5d3d"/>
<rect x="787" y="150" width="3" height="5" fill="#1c5e3c"/>
<rect x="788" y="151" width="1" height="3" fill="#11c56a"/>
<rect x="792" y="122" width="1" height="32" fill="#1f5d3d"/>
<rect x="791" y="123" width="3" height="28" fill="#1c5e3c"/>
<rect x="792" y="124" width="1" height="26" fill="#11c56a"/>
<rect x="795" y="116" width="1" height="19" fill="#1f5d3d"/>
<rect x="794" y="122" width="3" height="3" fill="#1c5e3c"/>
<rect x="795" y="123" width="1" height="1" fill="#11c56a"/>
<rect x="799" y="121" width="1" height="18" fill="#1f5d3d"/>
<rect x="798" y="122" width="3" height="8" fill="#6a1b10"/>
<rect x="799" y="123" width="1" height="6" fill="#f4604f"/>
<rect x="803" y="125" width="1" height="14" fill="#1f5d3d"/>
<rect x="802" y="129" width="3" height="7" fill="#6a1b10"/>
<rect x="803" y="130" width="1" height="5" fill="#f4604f"/>
<rect x="806" y="130" width="1" height="19" fill="#1f5d3d"/>
<rect x="805" y="131" width="3" height="5" fill="#1c5e3c"/>
<rect x="806" y="132" width="1" height="3" fill="#11c56a"/>
<rect x="810" y="119" width="1" height="12" fill="#1f5d3d"/>
<rect x="809" y="121" width="3" height="11" fill="#1c5e3c"/>
<rect x="810" y="122" width="1" height="9" fill="#11c56a"/>
<rect x="814" y="100" width="1" height="22" fill="#1f5d3d"/>
<rect x="813" y="102" width="3" height="20" fill="#1c5e3c"/>
<rect x="814" y="103" width="1" height="18" fill="#11c56a"/>
<rect x="817" y="98" width="1" height="14" fill="#1f5d3d"/>
<rect x="816" y="102" width="3" height="8" fill="#6a1b10"/>
<rect x="817" y="103" width="1" height="6" fill="#f4604f"/>
<rect x="821" y="96" width="1" height="35" fill="#1f5d3d"/>
<rect x="820" y="109" width="3" height="11" fill="#6a1b10"/>
<rect x="821" y="110" width="1" height="9" fill="#f4604f"/>
<rect x="825" y="104" width="1" height="19" fill="#1f5d3d"/>
<rect x="824" y="110" width="3" height="10" fill="#1c5e3c"/>
<rect x="825" y="111" width="1" height="8" fill="#11c56a"/>
<rect x="829" y="101" width="1" height="25" fill="#1f5d3d"/>
<rect x="828" y="110" width="3" height="7" fill="#6a1b10"/>
<rect x="829" y="111" width="1" height="5" fill="#f4604f"/>
<rect x="832" y="112" width="1" height="11" fill="#1f5d3d"/>
<rect x="831" y="116" width="3" height="3" fill="#6a1b10"/>
<rect x="832" y="117" width="1" height="1" fill="#f4604f"/>
<rect x="836" y="113" width="1" height="17" fill="#1f5d3d"/>
<rect x="835" y="118" width="3" height="3" fill="#6a1b10"/>
<rect x="836" y="119" width="1" height="1" fill="#f4604f"/>
<rect x="840" y="105" width="1" height="23" fill="#1f5d3d"/>
<rect x="839" y="120" width="3" height="7" fill="#6a1b10"/>
<rect x="840" y="121" width="1" height="5" fill="#f4604f"/>
<rect x="843" y="126" width="1" height="45" fill="#1f5d3d"/>
<rect x="842" y="126" width="3" height="36" fill="#6a1b10"/>
<rect x="843" y="127" width="1" height="34" fill="#f4604f"/>
<rect x="847" y="152" width="1" height="22" fill="#1f5d3d"/>
<rect x="846" y="154" width="3" height="8" fill="#1c5e3c"/>
<rect x="847" y="155" width="1" height="6" fill="#11c56a"/>
<rect x="851" y="148" width="1" height="38" fill="#1f5d3d"/>
<rect x="850" y="154" width="3" height="31" fill="#6a1b10"/>
<rect x="851" y="155" width="1" height="29" fill="#f4604f"/>
<rect x="854" y="152" width="1" height="32" fill="#1f5d3d"/>
<rect x="853" y="152" width="3" height="33" fill="#1c5e3c"/>
<rect x="854" y="153" width="1" height="31" fill="#11c56a"/>
<rect x="858" y="139" width="1" height="16" fill="#1f5d3d"/>
<rect x="857" y="141" width="3" height="12" fill="#1c5e3c"/>
<rect x="858" y="142" width="1" height="10" fill="#11c56a"/>
<rect x="862" y="140" width="1" height="18" fill="#1f5d3d"/>
<rect x="861" y="141" width="3" height="16" fill="#6a1b10"/>
<rect x="862" y="142" width="1" height="14" fill="#f4604f"/>
<rect x="866" y="151" width="1" height="29" fill="#1f5d3d"/>
<rect x="865" y="156" width="3" height="19" fill="#6a1b10"/>
<rect x="866" y="157" width="1" height="17" fill="#f4604f"/>
<rect x="869" y="144" width="1" height="31" fill="#1f5d3d"/>
<rect x="868" y="146" width="3" height="29" fill="#1c5e3c"/>
<rect x="869" y="147" width="1" height="27" fill="#11c56a"/>
<rect x="873" y="145" width="1" height="20" fill="#1f5d3d"/>
<rect x="872" y="146" width="3" height="10" fill="#6a1b10"/>
<rect x="873" y="147" width="1" height="8" fill="#f4604f"/>
<rect x="877" y="127" width="1" height="30" fill="#1f5d3d"/>
<rect x="876" y="131" width="3" height="25" fill="#1c5e3c"/>
<rect x="877" y="132" width="1" height="23" fill="#11c56a"/>
<rect x="880" y="127" width="1" height="63" fill="#1f5d3d"/>
<rect x="879" y="131" width="3" height="49" fill="#6a1b10"/>
<rect x="880" y="132" width="1" height="47" fill="#f4604f"/>
<rect x="884" y="164" width="1" height="16" fill="#1f5d3d"/>
<rect x="883" y="174" width="3" height="6" fill="#1c5e3c"/>
<rect x="884" y="175" width="1" height="4" fill="#11c56a"/>
<rect x="888" y="153" width="1" height="31" fill="#1f5d3d"/>
<rect x="887" y="154" width="3" height="21" fill="#1c5e3c"/>
<rect x="888" y="155" width="1" height="19" fill="#11c56a"/>
<rect x="891" y="136" width="1" height="19" fill="#1f5d3d"/>
<rect x="890" y="138" width="3" height="17" fill="#1c5e3c"/>
<rect x="891" y="139" width="1" height="15" fill="#11c56a"/>
<rect x="895" y="107" width="1" height="32" fill="#1f5d3d"/>
<rect x="894" y="120" width="3" height="19" fill="#1c5e3c"/>
<rect x="895" y="121" width="1" height="17" fill="#11c56a"/>
<rect x="899" y="104" width="1" height="25" fill="#1f5d3d"/>
<rect x="898" y="120" width="3" height="5" fill="#6a1b10"/>
<rect x="899" y="121" width="1" height="3" fill="#f4604f"/>
<rect x="903" y="119" width="1" height="18" fill="#1f5d3d"/>
<rect x="902" y="124" width="3" height="8" fill="#6a1b10"/>
<rect x="903" y="125" width="1" height="6" fill="#f4604f"/>
<rect x="906" y="117" width="1" height="61" fill="#1f5d3d"/>
<rect x="905" y="131" width="3" height="29" fill="#6a1b10"/>
<rect x="906" y="132" width="1" height="27" fill="#f4604f"/>
<rect x="910" y="159" width="1" height="70" fill="#1f5d3d"/>
<rect x="909" y="159" width="3" height="15" fill="#6a1b10"/>
<rect x="910" y="160" width="1" height="13" fill="#f4604f"/>
<rect x="914" y="159" width="1" height="20" fill="#1f5d3d"/>
<rect x="913" y="163" width="3" height="11" fill="#1c5e3c"/>
<rect x="914" y="164" width="1" height="9" fill="#11c56a"/>
<rect x="917" y="145" width="1" height="45" fill="#1f5d3d"/>
<rect x="916" y="148" width="3" height="16" fill="#1c5e3c"/>
<rect x="917" y="149" width="1" height="14" fill="#11c56a"/>
<rect x="921" y="140" width="1" height="15" fill="#1f5d3d"/>
<rect x="920" y="148" width="3" height="5" fill="#6a1b10"/>
<rect x="921" y="149" width="1" height="3" fill="#f4604f"/>
<rect x="925" y="138" width="1" height="21" fill="#1f5d3d"/>
<rect x="924" y="139" width="3" height="14" fill="#1c5e3c"/>
<rect x="925" y="140" width="1" height="12" fill="#11c56a"/>
<rect x="928" y="134" width="1" height="40" fill="#1f5d3d"/>
<rect x="927" y="139" width="3" height="34" fill="#6a1b10"/>
<rect x="928" y="140" width="1" height="32" fill="#f4604f"/>
<rect x="932" y="160" width="1" height="34" fill="#1f5d3d"/>
<rect x="931" y="172" width="3" height="21" fill="#6a1b10"/>
<rect x="932" y="173" width="1" height="19" fill="#f4604f"/>
<rect x="936" y="174" width="1" height="25" fill="#1f5d3d"/>
<rect x="935" y="175" width="3" height="18" fill="#1c5e3c"/>
<rect x="936" y="176" width="1" height="16" fill="#11c56a"/>
<rect x="940" y="165" width="1" height="17" fill="#1f5d3d"/>
<rect x="939" y="170" width="3" height="6" fill="#1c5e3c"/>
<rect x="940" y="171" width="1" height="4" fill="#11c56a"/>
<rect x="943" y="168" width="1" height="46" fill="#1f5d3d"/>
<rect x="942" y="170" width="3" height="36" fill="#6a1b10"/>
<rect x="943" y="171" width="1" height="34" fill="#f4604f"/>
<rect x="947" y="195" width="1" height="18" fill="#1f5d3d"/>
<rect x="946" y="197" width="3" height="9" fill="#1c5e3c"/>
<rect x="947" y="198" width="1" height="7" fill="#11c56a"/>
<rect x="951" y="173" width="1" height="44" fill="#1f5d3d"/>
<rect x="950" y="181" width="3" height="17" fill="#1c5e3c"/>
<rect x="951" y="182" width="1" height="15" fill="#11c56a"/>
<rect x="954" y="172" width="1" height="17" fill="#1f5d3d"/>
<rect x="953" y="181" width="3" height="8" fill="#6a1b10"/>
<rect x="954" y="182" width="1" height="6" fill="#f4604f"/>
<rect x="958" y="184" width="1" height="28" fill="#1f5d3d"/>
<rect x="957" y="188" width="3" height="9" fill="#6a1b10"/>
<rect x="958" y="189" width="1" height="7" fill="#f4604f"/>
<rect x="962" y="186" width="1" height="20" fill="#1f5d3d"/>
<rect x="961" y="188" width="3" height="9" fill="#1c5e3c"/>
<rect x="962" y="189" width="1" height="7" fill="#11c56a"/>
<rect x="965" y="180" width="1" height="12" fill="#1f5d3d"/>
<rect x="964" y="188" width="3" height="3" fill="#6a1b10"/>
<rect x="965" y="189" width="1" height="1" fill="#f4604f"/>
<rect x="969" y="184" width="1" height="22" fill="#1f5d3d"/>
<rect x="968" y="190" width="3" height="3" fill="#1c5e3c"/>
<rect x="969" y="191" width="1" height="1" fill="#11c56a"/>
<rect x="973" y="180" width="1" height="12" fill="#1f5d3d"/>
<rect x="972" y="181" width="3" height="10" fill="#1c5e3c"/>
<rect x="973" y="182" width="1" height="8" fill="#11c56a"/>
<rect x="977" y="175" width="1" height="12" fill="#1f5d3d"/>
<rect x="976" y="181" width="3" height="5" fill="#6a1b10"/>
<rect x="977" y="182" width="1" height="3" fill="#f4604f"/>
<rect x="980" y="167" width="1" height="26" fill="#1f5d3d"/>
<rect x="979" y="172" width="3" height="14" fill="#1c5e3c"/>
<rect x="980" y="173" width="1" height="12" fill="#11c56a"/>
<rect x="984" y="169" width="1" height="10" fill="#1f5d3d"/>
<rect x="983" y="172" width="3" height="7" fill="#6a1b10"/>
<rect x="984" y="173" width="1" height="5" fill="#f4604f"/>
<rect x="988" y="169" width="1" height="10" fill="#1f5d3d"/>
<rect x="987" y="174" width="3" height="5" fill="#1c5e3c"/>
<rect x="988" y="175" width="1" height="3" fill="#11c56a"/>
<rect x="991" y="172" width="1" height="9" fill="#1f5d3d"/>
<rect x="990" y="174" width="3" height="3" fill="#6a1b10"/>
<rect x="991" y="175" width="1" height="1" fill="#f4604f"/>
<rect x="995" y="170" width="1" height="10" fill="#1f5d3d"/>
<rect x="994" y="176" width="3" height="4" fill="#6a1b10"/>
<rect x="995" y="177" width="1" height="2" fill="#f4604f"/>
<rect x="999" y="179" width="1" height="28" fill="#1f5d3d"/>
<rect x="998" y="179" width="3" height="26" fill="#6a1b10"/>
<rect x="999" y="180" width="1" height="24" fill="#f4604f"/>
<rect x="1002" y="201" width="1" height="21" fill="#1f5d3d"/>
<rect x="1001" y="204" width="3" height="18" fill="#6a1b10"/>
<rect x="1002" y="205" width="1" height="16" fill="#f4604f"/>
<rect x="1006" y="207" width="1" height="17" fill="#1f5d3d"/>
<rect x="1005" y="212" width="3" height="10" fill="#1c5e3c"/>
<rect x="1006" y="213" width="1" height="8" fill="#11c56a"/>
<rect x="1010" y="201" width="1" height="19" fill="#1f5d3d"/>
<rect x="1009" y="212" width="3" height="4" fill="#6a1b10"/>
<rect x="1010" y="213" width="1" height="2" fill="#f4604f"/>
<rect x="1014" y="204" width="1" height="13" fill="#1f5d3d"/>
<rect x="1013" y="206" width="3" height="10" fill="#1c5e3c"/>
<rect x="1014" y="207" width="1" height="8" fill="#11c56a"/>
<rect x="1017" y="197" width="1" height="11" fill="#1f5d3d"/>
<rect x="1016" y="200" width="3" height="7" fill="#1c5e3c"/>
<rect x="1017" y="201" width="1" height="5" fill="#11c56a"/>
<rect x="1021" y="198" width="1" height="16" fill="#1f5d3d"/>
<rect x="1020" y="200" width="3" height="8" fill="#6a1b10"/>
<rect x="1021" y="201" width="1" height="6" fill="#f4604f"/>
<rect x="1025" y="194" width="1" height="16" fill="#1f5d3d"/>
<rect x="1024" y="204" width="3" height="4" fill="#1c5e3c"/>
<rect x="1025" y="205" width="1" height="2" fill="#11c56a"/>
<rect x="1028" y="198" width="1" height="33" fill="#1f5d3d"/>
<rect x="1027" y="204" width="3" height="25" fill="#6a1b10"/>
<rect x="1028" y="205" width="1" height="23" fill="#f4604f"/>
<rect x="1032" y="228" width="1" height="23" fill="#1f5d3d"/>
<rect x="1031" y="228" width="3" height="15" fill="#6a1b10"/>
<rect x="1032" y="229" width="1" height="13" fill="#f4604f"/>
<rect x="1036" y="241" width="1" height="33" fill="#1f5d3d"/>
<rect x="1035" y="242" width="3" height="23" fill="#6a1b10"/>
<rect x="1036" y="243" width="1" height="21" fill="#f4604f"/>
<rect x="1039" y="259" width="1" height="24" fill="#1f5d3d"/>
<rect x="1038" y="264" width="3" height="12" fill="#6a1b10"/>
<rect x="1039" y="265" width="1" height="10" fill="#f4604f"/>
<rect x="1043" y="262" width="1" height="15" fill="#1f5d3d"/>
<rect x="1042" y="268" width="3" height="8" fill="#1c5e3c"/>
<rect x="1043" y="269" width="1" height="6" fill="#11c56a"/>
<rect x="1047" y="267" width="1" height="22" fill="#1f5d3d"/>
<rect x="1046" y="268" width="3" height="8" fill="#6a1b10"/>
<rect x="1047" y="269" width="1" height="6" fill="#f4604f"/>
<rect x="1051" y="258" width="1" height="20" fill="#1f5d3d"/>
<rect x="1050" y="260" width="3" height="16" fill="#1c5e3c"/>
<rect x="1051" y="261" width="1" height="14" fill="#11c56a"/>
<rect x="1054" y="242" width="1" height="19" fill="#1f5d3d"/>
<rect x="1053" y="246" width="3" height="15" fill="#1c5e3c"/>
<rect x="1054" y="247" width="1" height="13" fill="#11c56a"/>
<rect x="1058" y="242" width="1" height="18" fill="#1f5d3d"/>
<rect x="1057" y="246" width="3" height="13" fill="#6a1b10"/>
<rect x="1058" y="247" width="1" height="11" fill="#f4604f"/>
<rect x="1062" y="249" width="1" height="14" fill="#1f5d3d"/>
<rect x="1061" y="253" width="3" height="6" fill="#1c5e3c"/>
<rect x="1062" y="254" width="1" height="4" fill="#11c56a"/>
<rect x="1065" y="246" width="1" height="9" fill="#1f5d3d"/>
<rect x="1064" y="251" width="3" height="3" fill="#1c5e3c"/>
<rect x="1065" y="252" width="1" height="1" fill="#11c56a"/>
<rect x="1069" y="244" width="1" height="11" fill="#1f5d3d"/>
<rect x="1068" y="249" width="3" height="3" fill="#1c5e3c"/>
<rect x="1069" y="250" width="1" height="1" fill="#11c56a"/>
<rect x="1073" y="247" width="1" height="21" fill="#1f5d3d"/>
<rect x="1072" y="249" width="3" height="14" fill="#6a1b10"/>
<rect x="1073" y="250" width="1" height="12" fill="#f4604f"/>
<rect x="1076" y="259" width="1" height="15" fill="#1f5d3d"/>
<rect x="1075" y="262" width="3" height="6" fill="#6a1b10"/>
<rect x="1076" y="263" width="1" height="4" fill="#f4604f"/>
<rect x="1080" y="264" width="1" height="14" fill="#1f5d3d"/>
<rect x="1079" y="267" width="3" height="8" fill="#6a1b10"/>
<rect x="1080" y="268" width="1" height="6" fill="#f4604f"/>
<rect x="1084" y="256" width="1" height="28" fill="#1f5d3d"/>
<rect x="1083" y="274" width="3" height="11" fill="#6a1b10"/>
<rect x="1084" y="275" width="1" height="9" fill="#f4604f"/>
<rect x="1088" y="281" width="1" height="55" fill="#1f5d3d"/>
<rect x="1087" y="284" width="3" height="45" fill="#6a1b10"/>
<rect x="1088" y="285" width="1" height="43" fill="#f4604f"/>
<rect x="1091" y="321" width="1" height="30" fill="#1f5d3d"/>
<rect x="1090" y="328" width="3" height="17" fill="#6a1b10"/>
<rect x="1091" y="329" width="1" height="15" fill="#f4604f"/>
<rect x="1095" y="329" width="1" height="16" fill="#1f5d3d"/>
<rect x="1094" y="330" width="3" height="15" fill="#1c5e3c"/>
<rect x="1095" y="331" width="1" height="13" fill="#11c56a"/>
<rect x="1099" y="329" width="1" height="39" fill="#1f5d3d"/>
<rect x="1098" y="330" width="3" height="11" fill="#6a1b10"/>
<rect x="1099" y="331" width="1" height="9" fill="#f4604f"/>
<rect x="1102" y="333" width="1" height="15" fill="#1f5d3d"/>
<rect x="1101" y="339" width="3" height="3" fill="#1c5e3c"/>
<rect x="1102" y="340" width="1" height="1" fill="#11c56a"/>
<rect x="1106" y="311" width="1" height="31" fill="#1f5d3d"/>
<rect x="1105" y="338" width="3" height="3" fill="#1c5e3c"/>
<rect x="1106" y="339" width="1" height="1" fill="#11c56a"/>
<rect x="1110" y="332" width="1" height="19" fill="#1f5d3d"/>
<rect x="1109" y="338" width="3" height="5" fill="#6a1b10"/>
<rect x="1110" y="339" width="1" height="3" fill="#f4604f"/>
<rect x="1113" y="329" width="1" height="18" fill="#1f5d3d"/>
<rect x="1112" y="329" width="3" height="14" fill="#1c5e3c"/>
<rect x="1113" y="330" width="1" height="12" fill="#11c56a"/>
<rect x="1117" y="320" width="1" height="10" fill="#1f5d3d"/>
<rect x="1116" y="324" width="3" height="6" fill="#1c5e3c"/>
<rect x="1117" y="325" width="1" height="4" fill="#11c56a"/>
<rect x="1121" y="321" width="1" height="7" fill="#1f5d3d"/>
<rect x="1120" y="324" width="3" height="3" fill="#1c5e3c"/>
<rect x="1121" y="325" width="1" height="1" fill="#11c56a"/>
<rect x="1125" y="313" width="1" height="23" fill="#1f5d3d"/>
<rect x="1124" y="315" width="3" height="10" fill="#1c5e3c"/>
<rect x="1125" y="316" width="1" height="8" fill="#11c56a"/>
<rect x="1128" y="302" width="1" height="14" fill="#1f5d3d"/>
<rect x="1127" y="305" width="3" height="11" fill="#1c5e3c"/>
<rect x="1128" y="306" width="1" height="9" fill="#11c56a"/>
<rect x="1132" y="302" width="1" height="19" fill="#1f5d3d"/>
<rect x="1131" y="305" width="3" height="12" fill="#6a1b10"/>
<rect x="1132" y="306" width="1" height="10" fill="#f4604f"/>
<rect x="1136" y="311" width="1" height="13" fill="#1f5d3d"/>
<rect x="1135" y="315" width="3" height="3" fill="#1c5e3c"/>
<rect x="1136" y="316" width="1" height="1" fill="#11c56a"/>
<rect x="1139" y="283" width="1" height="33" fill="#1f5d3d"/>
<rect x="1138" y="283" width="3" height="33" fill="#1c5e3c"/>
<rect x="1139" y="284" width="1" height="31" fill="#11c56a"/>
<rect x="1143" y="277" width="1" height="10" fill="#1f5d3d"/>
<rect x="1142" y="283" width="3" height="3" fill="#1c5e3c"/>
<rect x="1143" y="284" width="1" height="1" fill="#11c56a"/>
<rect x="1147" y="276" width="1" height="11" fill="#1f5d3d"/>
<rect x="1146" y="277" width="3" height="7" fill="#1c5e3c"/>
<rect x="1147" y="278" width="1" height="5" fill="#11c56a"/>
<rect x="1150" y="264" width="1" height="19" fill="#1f5d3d"/>
<rect x="1149" y="269" width="3" height="9" fill="#1c5e3c"/>
<rect x="1150" y="270" width="1" height="7" fill="#11c56a"/>
<rect x="1154" y="260" width="1" height="20" fill="#1f5d3d"/>
<rect x="1153" y="269" width="3" height="4" fill="#6a1b10"/>
<rect x="1154" y="270" width="1" height="2" fill="#f4604f"/>
<rect x="1158" y="256" width="1" height="20" fill="#1f5d3d"/>
<rect x="1157" y="260" width="3" height="13" fill="#1c5e3c"/>
<rect x="1158" y="261" width="1" height="11" fill="#11c56a"/>
<rect x="1162" y="255" width="1" height="25" fill="#1f5d3d"/>
<rect x="1161" y="260" width="3" height="17" fill="#6a1b10"/>
<rect x="1162" y="261" width="1" height="15" fill="#f4604f"/>
<rect x="1165" y="269" width="1" height="25" fill="#1f5d3d"/>
<rect x="1164" y="276" width="3" height="16" fill="#6a1b10"/>
<rect x="1165" y="277" width="1" height="14" fill="#f4604f"/>
<rect x="1169" y="285" width="1" height="11" fill="#1f5d3d"/>
<rect x="1168" y="291" width="3" height="3" fill="#6a1b10"/>
<rect x="1169" y="292" width="1" height="1" fill="#f4604f"/>
<rect x="1173" y="288" width="1" height="11" fill="#1f5d3d"/>
<rect x="1172" y="292" width="3" height="5" fill="#6a1b10"/>
<rect x="1173" y="293" width="1" height="3" fill="#f4604f"/>
<rect x="1176" y="287" width="1" height="12" fill="#1f5d3d"/>
<rect x="1175" y="291" width="3" height="6" fill="#1c5e3c"/>
<rect x="1176" y="292" width="1" height="4" fill="#11c56a"/>
<rect x="1180" y="264" width="1" height="27" fill="#1f5d3d"/>
<rect x="1179" y="265" width="3" height="27" fill="#1c5e3c"/>
<rect x="1180" y="266" width="1" height="25" fill="#11c56a"/>
<rect x="1184" y="265" width="1" height="13" fill="#1f5d3d"/>
<rect x="1183" y="265" width="3" height="7" fill="#6a1b10"/>
<rect x="1184" y="266" width="1" height="5" fill="#f4604f"/>
<rect x="1187" y="267" width="1" height="17" fill="#1f5d3d"/>
<rect x="1186" y="271" width="3" height="13" fill="#6a1b10"/>
<rect x="1187" y="272" width="1" height="11" fill="#f4604f"/>
<line x1="8" y1="283.4" x2="1240" y2="283.4" stroke="#3d6fe8" stroke-width="1" stroke-dasharray="2,1"/>
<path d="M40.0,399.3 L51.7,393.3 L69.0,384.7 L86.2,376.9 L110.0,364.6 L119.3,357.6 L128.6,348.3 L138.0,338.2 L145.7,328.1 L153.5,317.3 L161.2,308.0 L169.0,301.0 L176.8,295.5 L184.5,292.4 L192.3,290.1 L200.0,287.0 L210.0,284.7 L216.2,280.5 L233.4,277.0 L250.7,274.1 L271.4,272.8 L285.2,274.5 L295.5,277.0 L305.9,286.6 L316.2,296.9 L324.8,307.2 L331.0,314.0 L337.9,318.6 L351.7,330.7 L367.2,338.4 L381.0,341.9 L389.7,346.2 L397.2,348.6 L414.5,355.5 L431.7,360.7 L449.0,361.6 L462.8,359.8 L474.8,354.7 L492.0,345.2 L509.3,334.8 L526.6,325.3 L543.8,315.9 L555.0,306.5 L561.4,303.1 L571.7,289.3 L580.3,279.0 L589.0,270.3 L601.0,261.7 L613.1,253.1 L623.4,247.1 L633.8,244.5 L644.1,241.9 L657.9,241.9 L671.7,243.6 L685.5,243.1 L699.3,240.2 L709.7,238.4 L720.0,236.7 L731.0,230.3 L748.3,226.6 L765.5,224.3 L777.6,220.0 L791.4,212.2 L803.4,206.2 L813.8,199.3 L824.1,190.7 L834.5,181.2 L843.1,173.4 L851.7,166.6 L869.0,157.9 L886.2,150.2 L900.0,143.3 L910.3,138.1 L920.7,135.5 L931.0,133.8 L946.6,135.0 L963.8,138.1 L981.0,142.4 L990.0,145.2 L1000.3,147.2 L1007.2,152.4 L1017.6,157.6 L1031.4,163.6 L1045.2,172.2 L1059.0,180.0 L1069.3,185.2 L1076.2,188.6 L1083.1,195.5 L1093.4,204.1 L1103.8,214.5 L1112.1,225.0 L1120.7,230.2 L1131.0,237.9 L1137.9,242.2 L1148.3,246.6 L1158.6,252.6 L1169.0,258.6 L1179.3,263.8 L1188.5,268.3" fill="none" stroke="#ffff00" stroke-opacity="0.7" stroke-width="4.0" stroke-linejoin="round" stroke-linecap="butt"/>
</g>
<line x1="70" y1="412.2" x2="485" y2="412.2" stroke="#0000ff" stroke-width="3"/>
<g opacity="0.93">
<text x="20.6" y="416.9" font-size="20" font-weight="bold" fill="#000" stroke="#000" stroke-width="0.9" letter-spacing="0.1">Investing</text>
<circle cx="83.2" cy="401.6" r="2.4" fill="#f7a21b"/>
<text x="0" y="0" font-size="15.5" fill="#707070" transform="translate(111.6 416.8) scale(0.86 1)">.com</text>
</g>
<circle cx="1174.4" cy="271.1" r="7.6" fill="#1e90ff"/>
<text x="1174.4" y="275.2" font-size="11" font-weight="bold" fill="#fff" text-anchor="middle">P</text>
<rect x="8" y="467.4" width="1231.8" height="63.1" fill="#dfbfdf"/>
<line x1="8.45" y1="467.4" x2="1235" y2="467.4" stroke="#707070" stroke-width="1" stroke-dasharray="5.8,5.195"/>
<line x1="8.45" y1="530.5" x2="1235" y2="530.5" stroke="#707070" stroke-width="1" stroke-dasharray="5.8,5.195"/>
<g clip-path="url(#cs)">
<path d="M1.1,447.1 L4.8,466.0 L8.5,458.8 L12.2,451.8 L15.9,452.0 L19.6,476.6 L23.3,459.2 L27.0,462.8 L30.7,459.2 L34.4,454.7 L38.1,462.7 L41.8,450.8 L45.5,449.8 L49.2,451.6 L52.9,467.7 L56.6,486.1 L60.3,500.5 L64.0,511.7 L67.7,483.5 L71.4,479.4 L75.1,483.3 L78.8,489.4 L82.5,512.7 L86.2,496.6 L89.9,463.3 L93.6,449.2 L97.3,448.7 L101.0,451.0 L104.7,449.3 L108.4,447.5 L112.1,450.1 L115.8,448.0 L119.5,463.5 L123.2,447.6 L126.9,454.2 L130.6,454.8 L134.3,449.7 L138.0,449.4 L141.7,462.0 L145.4,448.8 L149.1,481.1 L152.8,488.3 L156.5,465.3 L160.2,497.2 L163.9,503.2 L167.6,539.0 L171.3,530.7 L175.0,528.3 L178.7,514.4 L182.4,529.6 L186.1,535.4 L189.8,536.4 L193.5,515.0 L197.2,512.5 L200.9,501.7 L204.6,508.2 L208.3,521.4 L212.0,524.6 L215.7,514.6 L219.4,495.4 L223.1,495.8 L226.8,470.0 L230.5,452.9 L234.2,466.4 L237.9,471.6 L241.6,471.5 L245.3,493.8 L249.0,504.5 L252.7,491.0 L256.4,509.9 L260.1,527.6 L263.8,524.9 L267.5,511.0 L271.2,497.7 L274.9,504.3 L278.6,534.4 L282.3,532.9 L286.0,540.3 L289.7,547.4 L293.4,526.2 L297.1,550.1 L300.8,533.3 L304.5,520.2 L308.2,520.3 L311.9,540.4 L315.6,538.5 L319.3,521.5 L323.0,509.8 L326.7,495.7 L330.4,472.1 L334.1,488.6 L337.8,471.8 L341.5,457.8 L345.2,456.8 L348.9,476.0 L352.6,456.4 L356.3,460.4 L360.0,491.3 L363.7,486.6 L367.4,499.1 L371.1,510.0 L374.7,547.7 L378.4,548.3 L382.1,528.1 L385.8,544.7 L389.5,546.7 L393.2,543.1 L396.9,543.8 L400.6,550.9 L404.3,542.7 L408.0,504.8 L411.7,483.5 L415.4,461.3 L419.1,450.1 L422.8,446.8 L426.5,478.1 L430.2,467.2 L433.9,467.3 L437.6,454.7 L441.3,447.0 L445.0,448.3 L448.7,461.4 L452.4,455.6 L456.1,467.7 L459.8,451.8 L463.5,448.7 L467.2,452.8 L470.9,448.1 L474.6,464.2 L478.3,449.5 L482.0,456.3 L485.7,457.9 L489.4,472.0 L493.1,447.5 L496.8,454.2 L500.5,449.0 L504.2,468.4 L507.9,486.1 L511.6,501.5 L515.3,476.8 L519.0,459.7 L522.7,474.9 L526.4,471.0 L530.1,461.5 L533.8,499.1 L537.5,485.2 L541.2,517.8 L544.9,475.1 L548.6,481.3 L552.3,486.0 L556.0,485.5 L559.7,454.3 L563.4,446.9 L567.1,453.7 L570.8,456.0 L574.5,461.9 L578.2,454.7 L581.9,457.5 L585.6,512.3 L589.3,504.9 L593.0,512.7 L596.7,536.8 L600.4,530.2 L604.1,514.7 L607.8,528.6 L611.5,512.6 L615.2,492.4 L618.9,496.7 L622.6,514.3 L626.3,510.5 L630.0,521.9 L633.7,547.7 L637.4,541.9 L641.1,508.1 L644.8,501.3 L648.5,524.6 L652.2,525.1 L655.9,510.9 L659.6,523.0 L663.3,537.5 L667.0,532.6 L670.7,514.0 L674.4,474.8 L678.1,456.7 L681.8,455.2 L685.5,459.3 L689.2,450.0 L692.9,453.0 L696.6,453.6 L700.3,458.6 L704.0,457.0 L707.7,476.6 L711.4,460.9 L715.1,467.4 L718.8,454.2 L722.5,450.4 L726.2,454.2 L729.9,467.8 L733.6,465.1 L737.3,485.1 L741.0,462.6 L744.7,450.9 L748.4,479.6 L752.1,489.4 L755.8,467.7 L759.5,476.5 L763.2,462.7 L766.9,472.5 L770.6,507.3 L774.3,458.6 L778.0,453.6 L781.7,465.4 L785.4,470.8 L789.1,467.0 L792.8,447.0 L796.5,454.3 L800.2,464.1 L803.9,471.6 L807.6,466.3 L811.3,452.3 L815.0,448.3 L818.7,458.2 L822.4,471.4 L826.1,466.9 L829.8,476.2 L833.5,479.3 L837.2,482.0 L840.9,500.9 L844.6,537.3 L848.3,523.7 L852.0,548.4 L855.7,512.0 L859.4,498.4 L863.1,515.6 L866.8,536.8 L870.5,504.9 L874.2,512.9 L877.9,482.7 L881.6,537.0 L885.3,530.4 L889.0,506.0 L892.7,467.1 L896.4,461.8 L900.1,470.4 L903.7,478.7 L907.4,512.8 L911.1,504.2 L914.8,496.1 L918.5,483.3 L922.2,486.6 L925.9,475.7 L929.6,503.4 L933.3,520.6 L937.0,505.6 L940.7,501.6 L944.4,531.1 L948.1,524.5 L951.8,506.7 L955.5,512.5 L959.2,514.4 L962.9,513.6 L966.6,516.8 L970.3,516.3 L974.0,505.4 L977.7,510.3 L981.4,468.2 L985.1,472.7 L988.8,463.4 L992.5,465.9 L996.2,472.2 L999.9,522.8 L1003.6,549.0 L1007.3,529.7 L1011.0,535.3 L1014.7,519.2 L1018.4,508.0 L1022.1,520.7 L1025.8,514.6 L1029.5,547.1 L1033.2,539.2 L1036.9,541.4 L1040.6,543.3 L1044.3,537.1 L1048.0,538.1 L1051.7,518.6 L1055.4,503.8 L1059.1,517.2 L1062.8,510.8 L1066.5,508.5 L1070.2,506.2 L1073.9,521.6 L1077.6,525.9 L1081.3,525.4 L1085.0,540.4 L1088.7,542.6 L1092.4,543.8 L1096.1,530.8 L1099.8,527.9 L1103.5,527.0 L1107.2,525.9 L1110.9,529.1 L1114.6,518.4 L1118.3,514.1 L1122.0,512.8 L1125.7,501.5 L1129.4,491.6 L1133.1,502.1 L1136.8,487.1 L1140.5,446.6 L1144.2,452.4 L1147.9,447.3 L1151.6,452.6 L1155.3,459.5 L1159.0,449.9 L1162.7,469.8 L1166.4,493.4 L1170.1,494.4 L1173.8,499.7 L1177.5,500.4 L1181.2,461.7 L1184.9,470.6 L1188.6,494.6" fill="none" stroke="#4040ff" stroke-width="1"/>
<path d="M1.1,462.1 L4.8,460.2 L8.5,457.3 L12.2,458.9 L15.9,454.2 L19.6,460.1 L23.3,462.6 L27.0,466.2 L30.7,460.4 L34.4,458.9 L38.1,458.8 L41.8,456.0 L45.5,454.4 L49.2,450.7 L52.9,456.3 L56.6,468.5 L60.3,484.8 L64.0,499.4 L67.7,498.6 L71.4,491.5 L75.1,482.1 L78.8,484.0 L82.5,495.1 L86.2,499.6 L89.9,490.9 L93.6,469.7 L97.3,453.7 L101.0,449.6 L104.7,449.7 L108.4,449.3 L112.1,449.0 L115.8,448.5 L119.5,453.9 L123.2,453.0 L126.9,455.1 L130.6,452.2 L134.3,452.9 L138.0,451.3 L141.7,453.7 L145.4,453.4 L149.1,463.9 L152.8,472.7 L156.5,478.2 L160.2,483.6 L163.9,488.6 L167.6,513.2 L171.3,524.3 L175.0,532.7 L178.7,524.4 L182.4,524.1 L186.1,526.4 L189.8,533.8 L193.5,528.9 L197.2,521.3 L200.9,509.8 L204.6,507.5 L208.3,510.4 L212.0,518.1 L215.7,520.2 L219.4,511.6 L223.1,501.9 L226.8,487.1 L230.5,472.9 L234.2,463.1 L237.9,463.6 L241.6,469.8 L245.3,479.0 L249.0,489.9 L252.7,496.4 L256.4,501.8 L260.1,509.5 L263.8,520.8 L267.5,521.2 L271.2,511.2 L274.9,504.3 L278.6,512.2 L282.3,523.9 L286.0,535.9 L289.7,540.2 L293.4,538.0 L297.1,541.2 L300.8,536.5 L304.5,534.5 L308.2,524.6 L311.9,527.0 L315.6,533.1 L319.3,533.5 L323.0,523.3 L326.7,509.0 L330.4,492.6 L334.1,485.5 L337.8,477.5 L341.5,472.7 L345.2,462.1 L348.9,463.5 L352.6,463.1 L356.3,464.3 L360.0,469.4 L363.7,479.4 L367.4,492.3 L371.1,498.6 L374.7,518.9 L378.4,535.3 L382.1,541.4 L385.8,540.4 L389.5,539.8 L393.2,544.8 L396.9,544.5 L400.6,545.9 L404.3,545.8 L408.0,532.8 L411.7,510.3 L415.4,483.2 L419.1,465.0 L422.8,452.7 L426.5,458.4 L430.2,464.0 L433.9,470.9 L437.6,463.0 L441.3,456.3 L445.0,450.0 L448.7,452.2 L452.4,455.1 L456.1,461.6 L459.8,458.4 L463.5,456.0 L467.2,451.1 L470.9,449.9 L474.6,455.0 L478.3,453.9 L482.0,456.7 L485.7,454.6 L489.4,462.1 L493.1,459.1 L496.8,457.9 L500.5,450.2 L504.2,457.2 L507.9,467.8 L511.6,485.4 L515.3,488.2 L519.0,479.4 L522.7,470.5 L526.4,468.5 L530.1,469.1 L533.8,477.2 L537.5,481.9 L541.2,500.7 L544.9,492.7 L548.6,491.4 L552.3,480.8 L556.0,484.2 L559.7,475.2 L563.4,462.2 L567.1,451.6 L570.8,452.2 L574.5,457.2 L578.2,457.5 L581.9,458.0 L585.6,474.8 L589.3,491.6 L593.0,510.0 L596.7,518.1 L600.4,526.6 L604.1,527.3 L607.8,524.5 L611.5,518.7 L615.2,511.2 L618.9,500.6 L622.6,501.1 L626.3,507.2 L630.0,515.5 L633.7,526.7 L637.4,537.2 L641.1,532.6 L644.8,517.1 L648.5,511.3 L652.2,517.0 L655.9,520.2 L659.6,519.6 L663.3,523.8 L667.0,531.0 L670.7,528.1 L674.4,507.1 L678.1,481.8 L681.8,462.2 L685.5,457.0 L689.2,454.8 L692.9,454.1 L696.6,452.2 L700.3,455.1 L704.0,456.4 L707.7,464.1 L711.4,464.9 L715.1,468.3 L718.8,460.8 L722.5,457.3 L726.2,452.9 L729.9,457.5 L733.6,462.3 L737.3,472.6 L741.0,470.9 L744.7,466.2 L748.4,464.4 L752.1,473.3 L755.8,478.9 L759.5,477.9 L763.2,469.0 L766.9,470.6 L770.6,480.8 L774.3,479.5 L778.0,473.2 L781.7,459.2 L785.4,463.3 L789.1,467.7 L792.8,461.6 L796.5,456.1 L800.2,455.1 L803.9,463.3 L807.6,467.4 L811.3,463.4 L815.0,455.7 L818.7,452.9 L822.4,459.3 L826.1,465.5 L829.8,471.5 L833.5,474.1 L837.2,479.2 L840.9,487.4 L844.6,506.7 L848.3,520.6 L852.0,536.4 L855.7,528.0 L859.4,519.6 L863.1,508.7 L866.8,516.9 L870.5,519.1 L874.2,518.2 L877.9,500.1 L881.6,510.9 L885.3,516.7 L889.0,524.5 L892.7,501.2 L896.4,478.3 L900.1,466.4 L903.7,470.3 L907.4,487.3 L911.1,498.6 L914.8,504.4 L918.5,494.5 L922.2,488.7 L925.9,481.9 L929.6,488.6 L933.3,499.9 L937.0,509.8 L940.7,509.2 L944.4,512.8 L948.1,519.1 L951.8,520.8 L955.5,514.6 L959.2,511.2 L962.9,513.5 L966.6,514.9 L970.3,515.5 L974.0,512.8 L977.7,510.6 L981.4,494.6 L985.1,483.7 L988.8,468.1 L992.5,467.3 L996.2,467.1 L999.9,487.0 L1003.6,514.7 L1007.3,533.8 L1011.0,538.0 L1014.7,528.0 L1018.4,520.8 L1022.1,516.0 L1025.8,514.4 L1029.5,527.4 L1033.2,533.6 L1036.9,542.6 L1040.6,541.3 L1044.3,540.6 L1048.0,539.5 L1051.7,531.3 L1055.4,520.1 L1059.1,513.2 L1062.8,510.6 L1066.5,512.2 L1070.2,508.5 L1073.9,512.1 L1077.6,517.9 L1081.3,524.3 L1085.0,530.6 L1088.7,536.1 L1092.4,542.3 L1096.1,539.0 L1099.8,534.2 L1103.5,528.6 L1107.2,526.9 L1110.9,527.3 L1114.6,524.5 L1118.3,520.5 L1122.0,515.1 L1125.7,509.4 L1129.4,502.0 L1133.1,498.4 L1136.8,493.6 L1140.5,478.6 L1144.2,462.0 L1147.9,448.8 L1151.6,450.8 L1155.3,453.1 L1159.0,454.0 L1162.7,459.7 L1166.4,471.0 L1170.1,485.9 L1173.8,495.8 L1177.5,498.2 L1181.2,487.3 L1184.9,477.6 L1188.6,475.7" fill="none" stroke="#ff3030" stroke-width="1"/>
</g>
<line x1="1241.5" y1="58" x2="1241.5" y2="557" stroke="#555" stroke-width="1"/>
<line x1="8" y1="433.5" x2="1292" y2="433.5" stroke="#555" stroke-width="1"/>
<line x1="8" y1="556.5" x2="1242" y2="556.5" stroke="#555" stroke-width="1"/>
<line x1="1241" y1="62.5" x2="1245" y2="62.5" stroke="#555" stroke-width="1"/>
<text x="1248" y="66.5" font-size="11" fill="#555">5200.00</text>
<line x1="1241" y1="102.7" x2="1245" y2="102.7" stroke="#555" stroke-width="1"/>
<text x="1248" y="106.7" font-size="11" fill="#555">4800.00</text>
<line x1="1241" y1="142.9" x2="1245" y2="142.9" stroke="#555" stroke-width="1"/>
<text x="1248" y="146.9" font-size="11" fill="#555">4400.00</text>
<line x1="1241" y1="183.2" x2="1245" y2="183.2" stroke="#555" stroke-width="1"/>
<text x="1248" y="187.2" font-size="11" fill="#555">4000.00</text>
<line x1="1241" y1="223.4" x2="1245" y2="223.4" stroke="#555" stroke-width="1"/>
<text x="1248" y="227.4" font-size="11" fill="#555">3600.00</text>
<line x1="1241" y1="263.6" x2="1245" y2="263.6" stroke="#555" stroke-width="1"/>
<text x="1248" y="267.6" font-size="11" fill="#555">3200.00</text>
<line x1="1241" y1="303.8" x2="1245" y2="303.8" stroke="#555" stroke-width="1"/>
<text x="1248" y="307.8" font-size="11" fill="#555">2800.00</text>
<line x1="1241" y1="344.1" x2="1245" y2="344.1" stroke="#555" stroke-width="1"/>
<text x="1248" y="348.1" font-size="11" fill="#555">2400.00</text>
<line x1="1241" y1="384.3" x2="1245" y2="384.3" stroke="#555" stroke-width="1"/>
<text x="1248" y="388.3" font-size="11" fill="#555">2000.00</text>
<line x1="1241" y1="424.5" x2="1245" y2="424.5" stroke="#555" stroke-width="1"/>
<text x="1248" y="428.5" font-size="11" fill="#555">1600.00</text>
<g clip-path="url(#csa)">
<line x1="1241" y1="467.2" x2="1245" y2="467.2" stroke="#555" stroke-width="1"/>
<text x="1248" y="471.2" font-size="11" fill="#555">80.0000</text>
<line x1="1241" y1="509.2" x2="1245" y2="509.2" stroke="#555" stroke-width="1"/>
<text x="1248" y="513.2" font-size="11" fill="#555">40.0000</text>
<line x1="1241" y1="551.3" x2="1245" y2="551.3" stroke="#555" stroke-width="1"/>
<text x="1248" y="556.8" font-size="11" fill="#555">0.0000</text>
</g>
<rect x="1241" y="201.9" width="51" height="16" fill="#00ff00"/>
<line x1="1241" y1="209.5" x2="1244" y2="209.5" stroke="#000" stroke-width="1"/>
<text x="1248.4" y="213.9" font-size="11" fill="#000" stroke="#000" stroke-width="0.3">3740.76</text>
<rect x="1241" y="217.8" width="51" height="16" fill="#e800f2"/>
<line x1="1241" y1="225.5" x2="1244" y2="225.5" stroke="#fff" stroke-width="1"/>
<text x="1248.4" y="229.8" font-size="11" fill="#fff" stroke="#fff" stroke-width="0.3">3681.90</text>
<rect x="1241" y="260.9" width="51" height="16" fill="#ffff00"/>
<line x1="1241" y1="268.5" x2="1244" y2="268.5" stroke="#000" stroke-width="1"/>
<text x="1248.4" y="272.9" font-size="11" fill="#000" stroke="#000" stroke-width="0.3">3152.46</text>
<rect x="1241" y="276.7" width="51" height="16" fill="#4b74e0"/>
<line x1="1241" y1="284.5" x2="1244" y2="284.5" stroke="#fff" stroke-width="1"/>
<text x="1248.4" y="288.7" font-size="11" fill="#fff" stroke="#fff" stroke-width="0.3">3005.85</text>
<rect x="1241" y="293.8" width="51" height="16" fill="#606060"/>
<line x1="1241" y1="301.5" x2="1244" y2="301.5" stroke="#fff" stroke-width="1"/>
<text x="1248.4" y="305.8" font-size="11" fill="#fff" stroke="#fff" stroke-width="0.3">2825.46</text>
<rect x="1241" y="467.9" width="51" height="16" fill="#ff0000"/>
<line x1="1241" y1="476" x2="1244" y2="476" stroke="#fff" stroke-width="1"/>
<text x="1248.4" y="479.9" font-size="11" fill="#fff" stroke="#fff" stroke-width="0.3">72.9409</text>
<rect x="1241" y="486" width="51" height="16" fill="#0000ff"/>
<line x1="1241" y1="494" x2="1244" y2="494" stroke="#fff" stroke-width="1"/>
<text x="1248.4" y="498" font-size="11" fill="#fff" stroke="#fff" stroke-width="0.3">55.1700</text>
<g clip-path="url(#cta)">
<line x1="108.4" y1="556" x2="108.4" y2="560" stroke="#555" stroke-width="1"/>
<text x="108.4" y="571" font-size="11" fill="#555" text-anchor="middle">May</text>
<line x1="223.1" y1="556" x2="223.1" y2="560" stroke="#555" stroke-width="1"/>
<text x="223.1" y="571" font-size="11" fill="#555" text-anchor="middle">Jun</text>
<line x1="334.1" y1="556" x2="334.1" y2="560" stroke="#555" stroke-width="1"/>
<text x="334.1" y="571" font-size="11" fill="#555" text-anchor="middle">Jul</text>
<line x1="448.7" y1="556" x2="448.7" y2="560" stroke="#555" stroke-width="1"/>
<text x="448.7" y="571" font-size="11" fill="#555" text-anchor="middle">Aug</text>
<line x1="563.4" y1="556" x2="563.4" y2="560" stroke="#555" stroke-width="1"/>
<text x="563.4" y="571" font-size="11" fill="#555" text-anchor="middle">Sep</text>
<line x1="674.4" y1="556" x2="674.4" y2="560" stroke="#555" stroke-width="1"/>
<text x="674.4" y="571" font-size="11" fill="#555" text-anchor="middle">Oct</text>
<line x1="789.1" y1="556" x2="789.1" y2="560" stroke="#555" stroke-width="1"/>
<text x="789.1" y="571" font-size="11" fill="#555" text-anchor="middle">Nov</text>
<line x1="900.1" y1="556" x2="900.1" y2="560" stroke="#555" stroke-width="1"/>
<text x="900.1" y="571" font-size="11" fill="#555" text-anchor="middle">Dec</text>
<line x1="1014.7" y1="556" x2="1014.7" y2="560" stroke="#555" stroke-width="1"/>
<text x="1014.7" y="571" font-size="11" fill="#555" text-anchor="middle" font-weight="bold">2022</text>
<line x1="1129.4" y1="556" x2="1129.4" y2="560" stroke="#555" stroke-width="1"/>
<text x="1129.4" y="571" font-size="11" fill="#555" text-anchor="middle">Feb</text>
<line x1="1233.0" y1="556" x2="1233.0" y2="560" stroke="#555" stroke-width="1"/>
<text x="1233.0" y="571" font-size="11" fill="#555" text-anchor="middle">Mar</text>
</g>
<text y="22.1" font-size="13.7" fill="#000"><tspan x="15.9">Published</tspan><tspan x="80.3">on</tspan><tspan x="99.1">Investing.com,</tspan><tspan x="189.8">17/Feb/2022</tspan><tspan x="272.5">-</tspan><tspan x="281.6">14:02:00</tspan><tspan x="340.1">GMT,</tspan><tspan x="378.8">Powered</tspan><tspan x="437.8">by</tspan><tspan x="457.5">TradingView.</tspan></text>
<text x="15.9" y="44.6" font-size="12" font-weight="bold" letter-spacing="0.98" fill="#000">Ethereum, Investing.com:ETH/USD, D</text>
<text x="18.4" y="77.7" font-size="13" word-spacing="2" fill="#000">MA (20, low, 0)</text>
<text x="18.4" y="94.7" font-size="13" word-spacing="2" fill="#000">MA (200, high, 0)</text>
<text x="18.4" y="111.7" font-size="13" word-spacing="2" fill="#000">MA (50, high, 0)</text>
<text x="18.4" y="128.7" font-size="13" word-spacing="2" fill="#000">MA (100, high, 0)</text>
<text x="18.3" y="453.5" font-size="13" word-spacing="1" fill="#000">Stoch (14, 1, 3)</text>
</svg>
</body></html>
